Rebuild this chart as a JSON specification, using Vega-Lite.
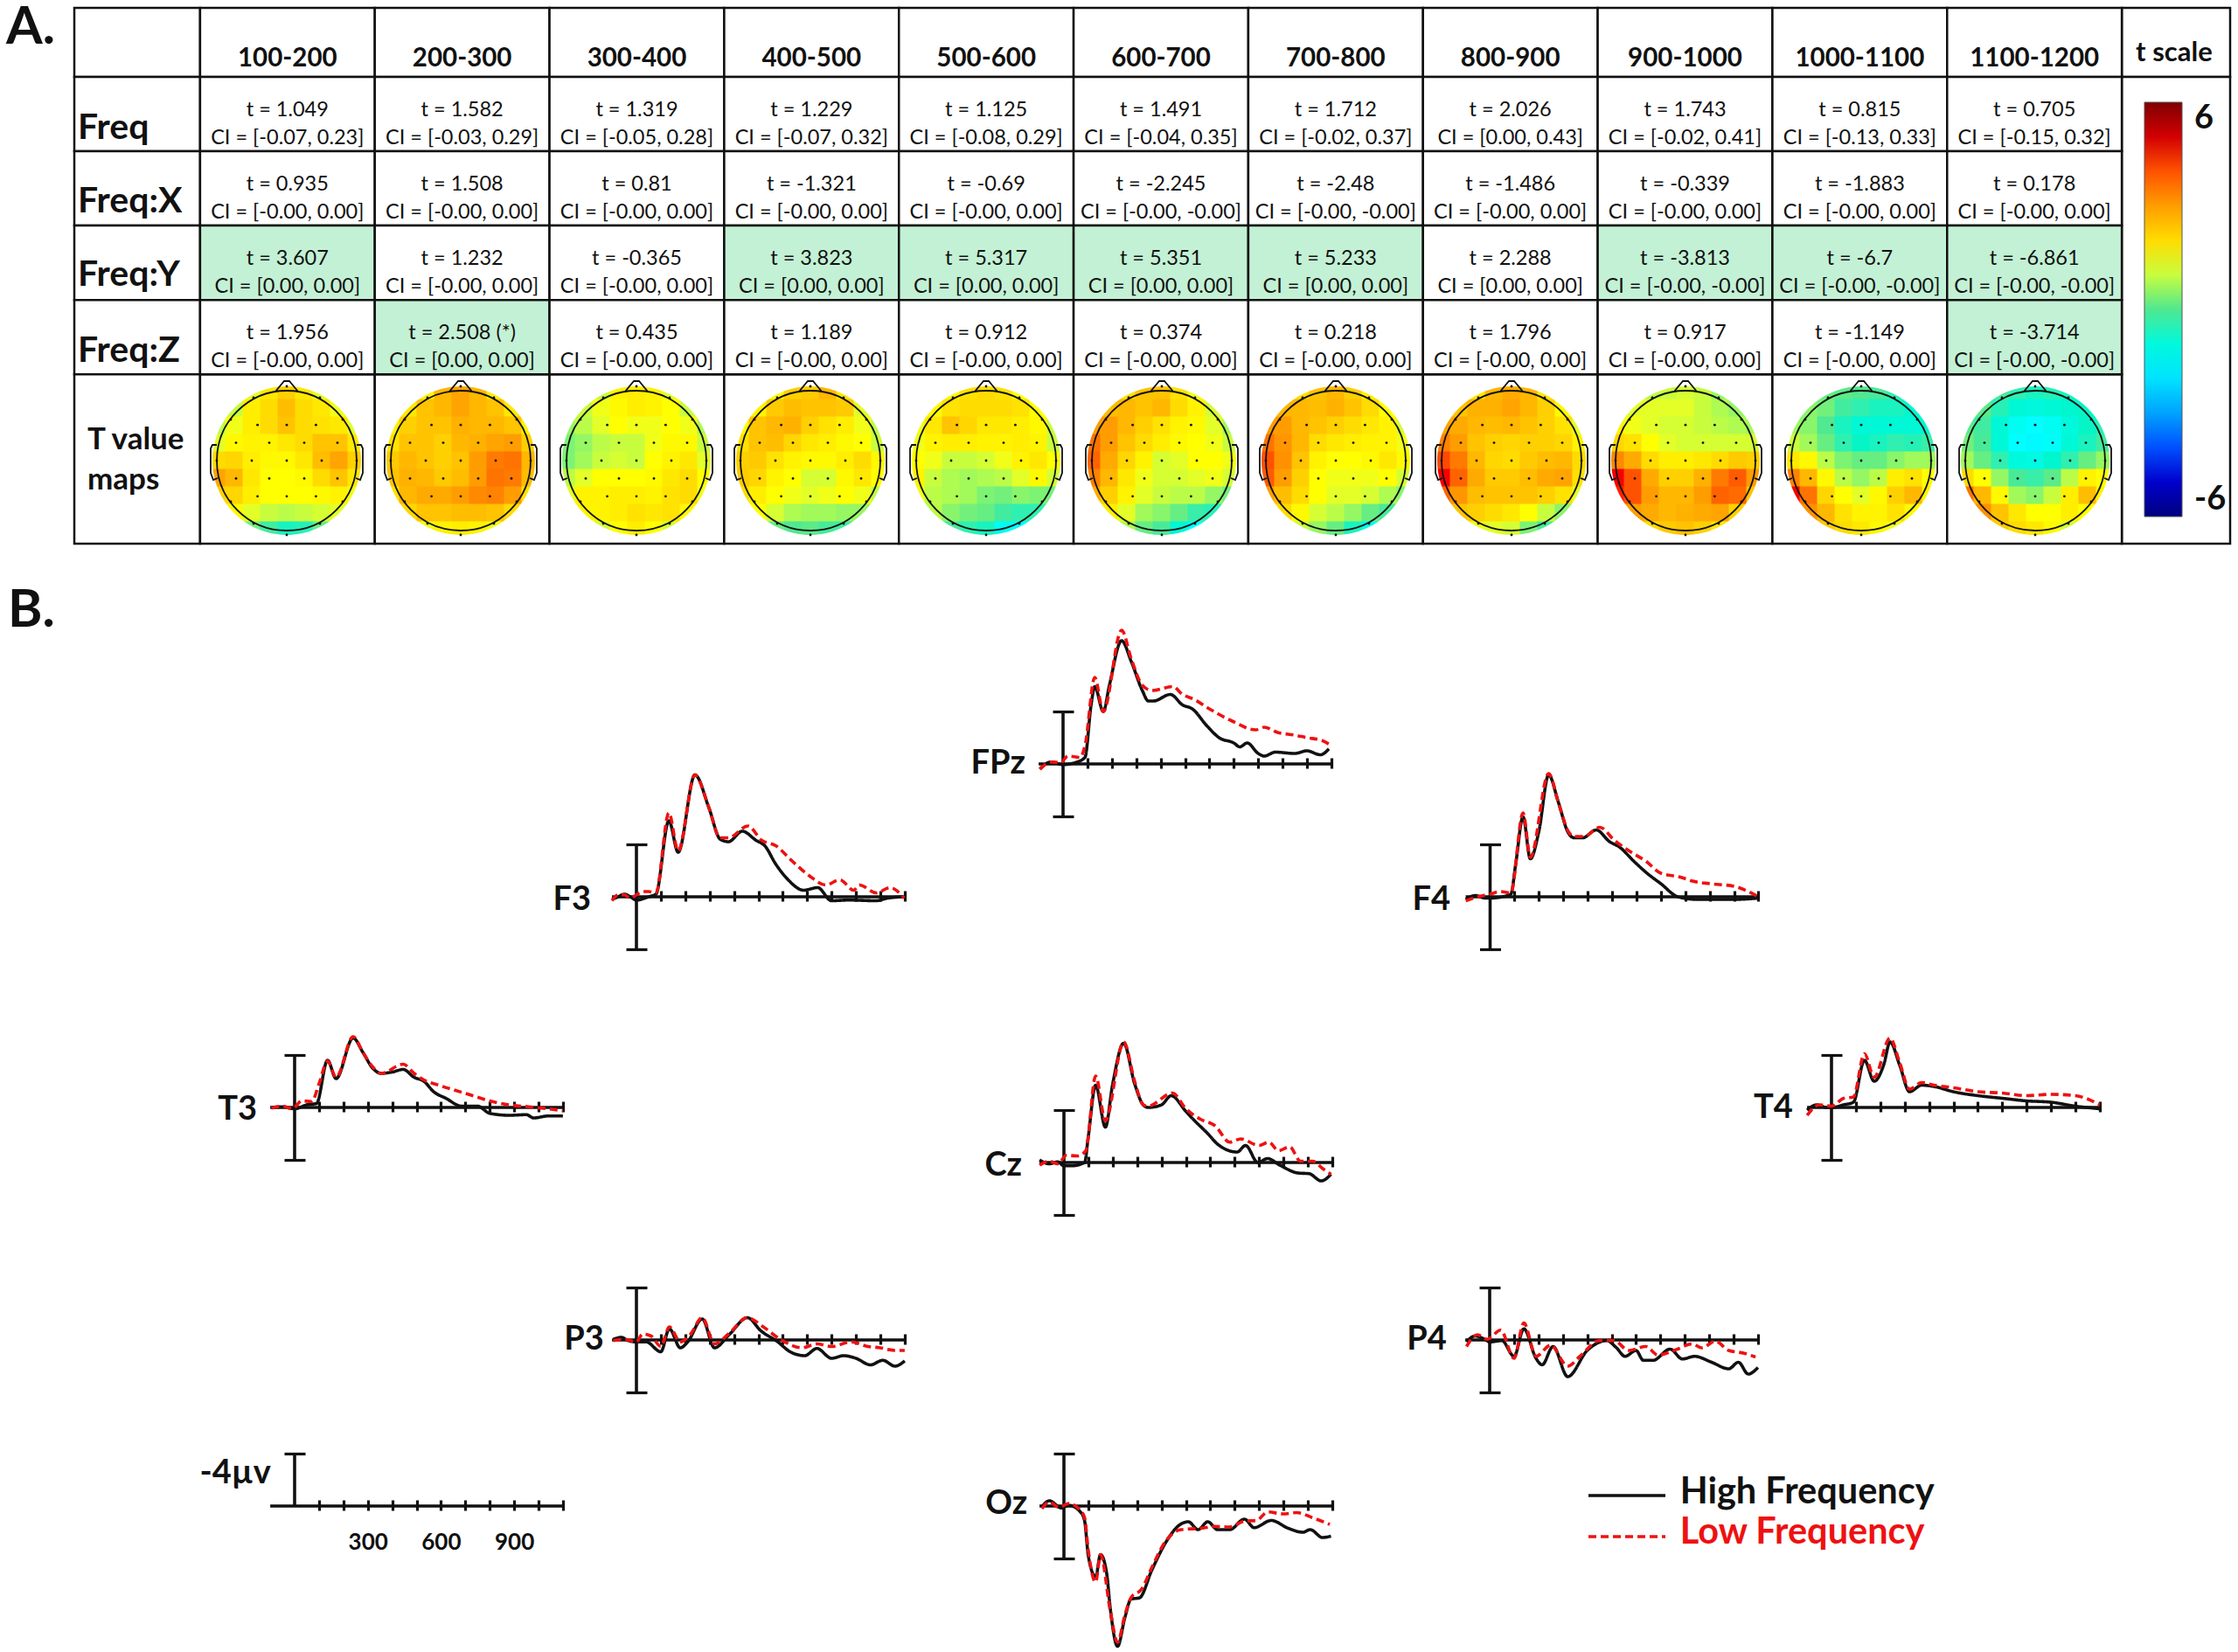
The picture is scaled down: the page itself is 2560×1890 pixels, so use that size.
{"$schema":"https://vega.github.io/schema/vega-lite/v6.json","width":2560,"height":1890,"autosize":{"type":"fit","contains":"padding"},"padding":0,"background":"white","config":{"view":{"stroke":null},"font":"Lato","text":{"font":"Lato"}},
"resolve":{"scale":{"x":"independent","y":"independent"}},
"datasets":{
"origin":[{"x":0,"y":0}],
"base":[{"x":-100,"x2":1100,"y":0}],
"bar":[{"x":0,"y":-4,"y2":4}],
"keybar":[{"x":0,"y":-4,"y2":0}],
"electrodes":[{"x":0,"y":-4.25},{"x":-1.9,"y":-3.6},{"x":1.9,"y":-3.6},{"x":-3.2,"y":-2.35},{"x":3.2,"y":-2.35},{"x":-1.67,"y":-2.04},{"x":0,"y":-2.04},{"x":1.67,"y":-2.04},{"x":-2.9,"y":-1.02},{"x":-1,"y":-1.02},{"x":1,"y":-1.02},{"x":2.9,"y":-1.02},{"x":-4,"y":0},{"x":-2,"y":0},{"x":0,"y":0},{"x":2,"y":0},{"x":4,"y":0},{"x":-2.9,"y":1.02},{"x":-1,"y":1.02},{"x":1,"y":1.02},{"x":2.9,"y":1.02},{"x":-1.67,"y":2.04},{"x":0,"y":2.04},{"x":1.67,"y":2.04},{"x":-3.2,"y":2.35},{"x":3.2,"y":2.35},{"x":-1.9,"y":3.6},{"x":1.9,"y":3.6},{"x":0,"y":4.25}],
"frame":[{"a":28,"b":100,"r0":-0.93,"r1":0},{"a":28,"b":100,"r0":0,"r1":1},{"a":28,"b":100,"r0":1,"r1":2},{"a":28,"b":100,"r0":2,"r1":3},{"a":28,"b":100,"r0":3,"r1":4},{"a":28,"b":100,"r0":4,"r1":6.28},{"a":1200,"b":1262,"r0":-0.93,"r1":0},{"a":1200,"b":1262,"r0":0,"r1":6.28},
{"a":100,"b":200,"r0":4,"r1":6.28},{"a":200,"b":300,"r0":4,"r1":6.28},{"a":300,"b":400,"r0":4,"r1":6.28},{"a":400,"b":500,"r0":4,"r1":6.28},{"a":500,"b":600,"r0":4,"r1":6.28},{"a":600,"b":700,"r0":4,"r1":6.28},{"a":700,"b":800,"r0":4,"r1":6.28},{"a":800,"b":900,"r0":4,"r1":6.28},{"a":900,"b":1000,"r0":4,"r1":6.28},{"a":1000,"b":1100,"r0":4,"r1":6.28},{"a":1100,"b":1200,"r0":4,"r1":6.28}],
"head":[{"c":150,"a":100,"b":200,"w":"100-200"},{"c":250,"a":200,"b":300,"w":"200-300"},{"c":350,"a":300,"b":400,"w":"300-400"},{"c":450,"a":400,"b":500,"w":"400-500"},{"c":550,"a":500,"b":600,"w":"500-600"},{"c":650,"a":600,"b":700,"w":"600-700"},{"c":750,"a":700,"b":800,"w":"700-800"},{"c":850,"a":800,"b":900,"w":"800-900"},{"c":950,"a":900,"b":1000,"w":"900-1000"},{"c":1050,"a":1000,"b":1100,"w":"1000-1100"},{"c":1150,"a":1100,"b":1200,"w":"1100-1200"}],
"rowlabels":[{"a":30,"r":0.69,"w":"Freq"},{"a":30,"r":1.68,"w":"Freq:X"},{"a":30,"r":2.67,"w":"Freq:Y"},{"a":30,"r":3.69,"w":"Freq:Z"}],
"cells":[
{"c":150,"a":100,"b":200,"r0":0,"r1":1,"t":"t = 1.049","ci":"CI = [-0.07, 0.23]","sig":0},{"c":250,"a":200,"b":300,"r0":0,"r1":1,"t":"t = 1.582","ci":"CI = [-0.03, 0.29]","sig":0},{"c":350,"a":300,"b":400,"r0":0,"r1":1,"t":"t = 1.319","ci":"CI = [-0.05, 0.28]","sig":0},{"c":450,"a":400,"b":500,"r0":0,"r1":1,"t":"t = 1.229","ci":"CI = [-0.07, 0.32]","sig":0},{"c":550,"a":500,"b":600,"r0":0,"r1":1,"t":"t = 1.125","ci":"CI = [-0.08, 0.29]","sig":0},{"c":650,"a":600,"b":700,"r0":0,"r1":1,"t":"t = 1.491","ci":"CI = [-0.04, 0.35]","sig":0},{"c":750,"a":700,"b":800,"r0":0,"r1":1,"t":"t = 1.712","ci":"CI = [-0.02, 0.37]","sig":0},{"c":850,"a":800,"b":900,"r0":0,"r1":1,"t":"t = 2.026","ci":"CI = [0.00, 0.43]","sig":0},{"c":950,"a":900,"b":1000,"r0":0,"r1":1,"t":"t = 1.743","ci":"CI = [-0.02, 0.41]","sig":0},{"c":1050,"a":1000,"b":1100,"r0":0,"r1":1,"t":"t = 0.815","ci":"CI = [-0.13, 0.33]","sig":0},{"c":1150,"a":1100,"b":1200,"r0":0,"r1":1,"t":"t = 0.705","ci":"CI = [-0.15, 0.32]","sig":0},
{"c":150,"a":100,"b":200,"r0":1,"r1":2,"t":"t = 0.935","ci":"CI = [-0.00, 0.00]","sig":0},{"c":250,"a":200,"b":300,"r0":1,"r1":2,"t":"t = 1.508","ci":"CI = [-0.00, 0.00]","sig":0},{"c":350,"a":300,"b":400,"r0":1,"r1":2,"t":"t = 0.81","ci":"CI = [-0.00, 0.00]","sig":0},{"c":450,"a":400,"b":500,"r0":1,"r1":2,"t":"t = -1.321","ci":"CI = [-0.00, 0.00]","sig":0},{"c":550,"a":500,"b":600,"r0":1,"r1":2,"t":"t = -0.69","ci":"CI = [-0.00, 0.00]","sig":0},{"c":650,"a":600,"b":700,"r0":1,"r1":2,"t":"t = -2.245","ci":"CI = [-0.00, -0.00]","sig":0},{"c":750,"a":700,"b":800,"r0":1,"r1":2,"t":"t = -2.48","ci":"CI = [-0.00, -0.00]","sig":0},{"c":850,"a":800,"b":900,"r0":1,"r1":2,"t":"t = -1.486","ci":"CI = [-0.00, 0.00]","sig":0},{"c":950,"a":900,"b":1000,"r0":1,"r1":2,"t":"t = -0.339","ci":"CI = [-0.00, 0.00]","sig":0},{"c":1050,"a":1000,"b":1100,"r0":1,"r1":2,"t":"t = -1.883","ci":"CI = [-0.00, 0.00]","sig":0},{"c":1150,"a":1100,"b":1200,"r0":1,"r1":2,"t":"t = 0.178","ci":"CI = [-0.00, 0.00]","sig":0},
{"c":150,"a":100,"b":200,"r0":2,"r1":3,"t":"t = 3.607","ci":"CI = [0.00, 0.00]","sig":1},{"c":250,"a":200,"b":300,"r0":2,"r1":3,"t":"t = 1.232","ci":"CI = [-0.00, 0.00]","sig":0},{"c":350,"a":300,"b":400,"r0":2,"r1":3,"t":"t = -0.365","ci":"CI = [-0.00, 0.00]","sig":0},{"c":450,"a":400,"b":500,"r0":2,"r1":3,"t":"t = 3.823","ci":"CI = [0.00, 0.00]","sig":1},{"c":550,"a":500,"b":600,"r0":2,"r1":3,"t":"t = 5.317","ci":"CI = [0.00, 0.00]","sig":1},{"c":650,"a":600,"b":700,"r0":2,"r1":3,"t":"t = 5.351","ci":"CI = [0.00, 0.00]","sig":1},{"c":750,"a":700,"b":800,"r0":2,"r1":3,"t":"t = 5.233","ci":"CI = [0.00, 0.00]","sig":1},{"c":850,"a":800,"b":900,"r0":2,"r1":3,"t":"t = 2.288","ci":"CI = [0.00, 0.00]","sig":0},{"c":950,"a":900,"b":1000,"r0":2,"r1":3,"t":"t = -3.813","ci":"CI = [-0.00, -0.00]","sig":1},{"c":1050,"a":1000,"b":1100,"r0":2,"r1":3,"t":"t = -6.7","ci":"CI = [-0.00, -0.00]","sig":1},{"c":1150,"a":1100,"b":1200,"r0":2,"r1":3,"t":"t = -6.861","ci":"CI = [-0.00, -0.00]","sig":1},
{"c":150,"a":100,"b":200,"r0":3,"r1":4,"t":"t = 1.956","ci":"CI = [-0.00, 0.00]","sig":0},{"c":250,"a":200,"b":300,"r0":3,"r1":4,"t":"t = 2.508 (*)","ci":"CI = [0.00, 0.00]","sig":1},{"c":350,"a":300,"b":400,"r0":3,"r1":4,"t":"t = 0.435","ci":"CI = [-0.00, 0.00]","sig":0},{"c":450,"a":400,"b":500,"r0":3,"r1":4,"t":"t = 1.189","ci":"CI = [-0.00, 0.00]","sig":0},{"c":550,"a":500,"b":600,"r0":3,"r1":4,"t":"t = 0.912","ci":"CI = [-0.00, 0.00]","sig":0},{"c":650,"a":600,"b":700,"r0":3,"r1":4,"t":"t = 0.374","ci":"CI = [-0.00, 0.00]","sig":0},{"c":750,"a":700,"b":800,"r0":3,"r1":4,"t":"t = 0.218","ci":"CI = [-0.00, 0.00]","sig":0},{"c":850,"a":800,"b":900,"r0":3,"r1":4,"t":"t = 1.796","ci":"CI = [-0.00, 0.00]","sig":0},{"c":950,"a":900,"b":1000,"r0":3,"r1":4,"t":"t = 0.917","ci":"CI = [-0.00, 0.00]","sig":0},{"c":1050,"a":1000,"b":1100,"r0":3,"r1":4,"t":"t = -1.149","ci":"CI = [-0.00, 0.00]","sig":0},{"c":1150,"a":1100,"b":1200,"r0":3,"r1":4,"t":"t = -3.714","ci":"CI = [-0.00, -0.00]","sig":1}],
"erp":[
{"p":"FPz","s":"H","x":-95,"y":0.4},{"p":"FPz","s":"H","x":-50,"y":-0.15},{"p":"FPz","s":"H","x":0,"y":0.05},{"p":"FPz","s":"H","x":50,"y":-0.1},{"p":"FPz","s":"H","x":90,"y":-0.5},{"p":"FPz","s":"H","x":115,"y":-4.5},{"p":"FPz","s":"H","x":130,"y":-5.9},{"p":"FPz","s":"H","x":165,"y":-4},{"p":"FPz","s":"H","x":190,"y":-6},{"p":"FPz","s":"H","x":240,"y":-9.4},{"p":"FPz","s":"H","x":280,"y":-7.8},{"p":"FPz","s":"H","x":325,"y":-5.6},{"p":"FPz","s":"H","x":350,"y":-4.8},{"p":"FPz","s":"H","x":370,"y":-4.8},{"p":"FPz","s":"H","x":440,"y":-5.3},{"p":"FPz","s":"H","x":490,"y":-4.5},{"p":"FPz","s":"H","x":530,"y":-4.2},{"p":"FPz","s":"H","x":590,"y":-2.9},{"p":"FPz","s":"H","x":640,"y":-2},{"p":"FPz","s":"H","x":700,"y":-1.6},{"p":"FPz","s":"H","x":725,"y":-1.3},{"p":"FPz","s":"H","x":755,"y":-1.6},{"p":"FPz","s":"H","x":800,"y":-0.8},{"p":"FPz","s":"H","x":825,"y":-0.6},{"p":"FPz","s":"H","x":870,"y":-0.9},{"p":"FPz","s":"H","x":950,"y":-0.8},{"p":"FPz","s":"H","x":1000,"y":-1},{"p":"FPz","s":"H","x":1055,"y":-0.7},{"p":"FPz","s":"H","x":1090,"y":-1.15},
{"p":"FPz","s":"L","x":-95,"y":0.4},{"p":"FPz","s":"L","x":-50,"y":-0.15},{"p":"FPz","s":"L","x":-10,"y":-0.1},{"p":"FPz","s":"L","x":20,"y":-0.6},{"p":"FPz","s":"L","x":70,"y":-0.5},{"p":"FPz","s":"L","x":90,"y":-1.4},{"p":"FPz","s":"L","x":130,"y":-6.6},{"p":"FPz","s":"L","x":165,"y":-4},{"p":"FPz","s":"L","x":240,"y":-10.2},{"p":"FPz","s":"L","x":280,"y":-8},{"p":"FPz","s":"L","x":325,"y":-6},{"p":"FPz","s":"L","x":365,"y":-5.6},{"p":"FPz","s":"L","x":450,"y":-5.9},{"p":"FPz","s":"L","x":490,"y":-5.3},{"p":"FPz","s":"L","x":540,"y":-4.9},{"p":"FPz","s":"L","x":600,"y":-4.2},{"p":"FPz","s":"L","x":690,"y":-3.3},{"p":"FPz","s":"L","x":790,"y":-2.6},{"p":"FPz","s":"L","x":825,"y":-2.8},{"p":"FPz","s":"L","x":880,"y":-2.4},{"p":"FPz","s":"L","x":950,"y":-2.2},{"p":"FPz","s":"L","x":1000,"y":-2},{"p":"FPz","s":"L","x":1060,"y":-1.8},{"p":"FPz","s":"L","x":1100,"y":-1.4},
{"p":"F3","s":"H","x":-100,"y":0.2},{"p":"F3","s":"H","x":-75,"y":0},{"p":"F3","s":"H","x":-50,"y":-0.2},{"p":"F3","s":"H","x":-25,"y":0},{"p":"F3","s":"H","x":0,"y":0.25},{"p":"F3","s":"H","x":50,"y":0},{"p":"F3","s":"H","x":80,"y":-0.2},{"p":"F3","s":"H","x":133,"y":-5.8},{"p":"F3","s":"H","x":171,"y":-3.4},{"p":"F3","s":"H","x":240,"y":-9.3},{"p":"F3","s":"H","x":297,"y":-6.8},{"p":"F3","s":"H","x":343,"y":-4.4},{"p":"F3","s":"H","x":377,"y":-4.2},{"p":"F3","s":"H","x":434,"y":-5},{"p":"F3","s":"H","x":491,"y":-4.3},{"p":"F3","s":"H","x":526,"y":-3.9},{"p":"F3","s":"H","x":571,"y":-2.5},{"p":"F3","s":"H","x":617,"y":-1.4},{"p":"F3","s":"H","x":686,"y":-0.5},{"p":"F3","s":"H","x":743,"y":-0.7},{"p":"F3","s":"H","x":800,"y":0.3},{"p":"F3","s":"H","x":869,"y":0.25},{"p":"F3","s":"H","x":983,"y":0.3},{"p":"F3","s":"H","x":1030,"y":0.1},{"p":"F3","s":"H","x":1097,"y":0},
{"p":"F3","s":"L","x":-100,"y":0.3},{"p":"F3","s":"L","x":-75,"y":-0.15},{"p":"F3","s":"L","x":-50,"y":-0.15},{"p":"F3","s":"L","x":-25,"y":0.1},{"p":"F3","s":"L","x":0,"y":-0.15},{"p":"F3","s":"L","x":25,"y":-0.4},{"p":"F3","s":"L","x":50,"y":-0.4},{"p":"F3","s":"L","x":80,"y":-0.3},{"p":"F3","s":"L","x":133,"y":-6.4},{"p":"F3","s":"L","x":171,"y":-3.5},{"p":"F3","s":"L","x":240,"y":-9.3},{"p":"F3","s":"L","x":297,"y":-6.8},{"p":"F3","s":"L","x":343,"y":-4.5},{"p":"F3","s":"L","x":377,"y":-4.5},{"p":"F3","s":"L","x":457,"y":-5.4},{"p":"F3","s":"L","x":514,"y":-4.3},{"p":"F3","s":"L","x":571,"y":-3.9},{"p":"F3","s":"L","x":640,"y":-2.7},{"p":"F3","s":"L","x":709,"y":-1.6},{"p":"F3","s":"L","x":777,"y":-0.9},{"p":"F3","s":"L","x":834,"y":-1.3},{"p":"F3","s":"L","x":891,"y":-0.5},{"p":"F3","s":"L","x":914,"y":-0.9},{"p":"F3","s":"L","x":983,"y":-0.3},{"p":"F3","s":"L","x":1040,"y":-0.7},{"p":"F3","s":"L","x":1097,"y":0.1},
{"p":"F4","s":"H","x":-100,"y":0.2},{"p":"F4","s":"H","x":-60,"y":-0.1},{"p":"F4","s":"H","x":-20,"y":0.1},{"p":"F4","s":"H","x":0,"y":0.1},{"p":"F4","s":"H","x":50,"y":0},{"p":"F4","s":"H","x":85,"y":-0.2},{"p":"F4","s":"H","x":105,"y":-2.5},{"p":"F4","s":"H","x":135,"y":-6.1},{"p":"F4","s":"H","x":165,"y":-2.9},{"p":"F4","s":"H","x":200,"y":-5},{"p":"F4","s":"H","x":240,"y":-9.3},{"p":"F4","s":"H","x":280,"y":-7.2},{"p":"F4","s":"H","x":320,"y":-4.9},{"p":"F4","s":"H","x":345,"y":-4.5},{"p":"F4","s":"H","x":380,"y":-4.5},{"p":"F4","s":"H","x":435,"y":-5.1},{"p":"F4","s":"H","x":490,"y":-4.2},{"p":"F4","s":"H","x":530,"y":-3.8},{"p":"F4","s":"H","x":590,"y":-2.7},{"p":"F4","s":"H","x":650,"y":-1.7},{"p":"F4","s":"H","x":700,"y":-1},{"p":"F4","s":"H","x":770,"y":0},{"p":"F4","s":"H","x":850,"y":0.2},{"p":"F4","s":"H","x":1000,"y":0.2},{"p":"F4","s":"H","x":1100,"y":0.1},
{"p":"F4","s":"L","x":-100,"y":0.3},{"p":"F4","s":"L","x":-50,"y":0},{"p":"F4","s":"L","x":0,"y":-0.2},{"p":"F4","s":"L","x":40,"y":-0.4},{"p":"F4","s":"L","x":85,"y":-0.3},{"p":"F4","s":"L","x":135,"y":-6.4},{"p":"F4","s":"L","x":165,"y":-3},{"p":"F4","s":"L","x":240,"y":-9.4},{"p":"F4","s":"L","x":280,"y":-7.2},{"p":"F4","s":"L","x":320,"y":-5},{"p":"F4","s":"L","x":345,"y":-4.6},{"p":"F4","s":"L","x":385,"y":-4.6},{"p":"F4","s":"L","x":450,"y":-5.3},{"p":"F4","s":"L","x":510,"y":-4.3},{"p":"F4","s":"L","x":570,"y":-3.5},{"p":"F4","s":"L","x":640,"y":-2.7},{"p":"F4","s":"L","x":700,"y":-1.8},{"p":"F4","s":"L","x":780,"y":-1.5},{"p":"F4","s":"L","x":830,"y":-1.2},{"p":"F4","s":"L","x":900,"y":-1},{"p":"F4","s":"L","x":1000,"y":-0.8},{"p":"F4","s":"L","x":1100,"y":0},
{"p":"T3","s":"H","x":-95,"y":0},{"p":"T3","s":"H","x":-50,"y":-0.05},{"p":"T3","s":"H","x":0,"y":0.1},{"p":"T3","s":"H","x":50,"y":-0.2},{"p":"T3","s":"H","x":90,"y":-0.3},{"p":"T3","s":"H","x":135,"y":-3.6},{"p":"T3","s":"H","x":170,"y":-2.2},{"p":"T3","s":"H","x":240,"y":-5.3},{"p":"T3","s":"H","x":280,"y":-4.2},{"p":"T3","s":"H","x":320,"y":-3},{"p":"T3","s":"H","x":355,"y":-2.6},{"p":"T3","s":"H","x":400,"y":-2.7},{"p":"T3","s":"H","x":445,"y":-2.9},{"p":"T3","s":"H","x":490,"y":-2.3},{"p":"T3","s":"H","x":530,"y":-2},{"p":"T3","s":"H","x":570,"y":-1.2},{"p":"T3","s":"H","x":620,"y":-0.7},{"p":"T3","s":"H","x":685,"y":-0.1},{"p":"T3","s":"H","x":750,"y":-0.1},{"p":"T3","s":"H","x":800,"y":0.45},{"p":"T3","s":"H","x":880,"y":0.6},{"p":"T3","s":"H","x":950,"y":0.55},{"p":"T3","s":"H","x":980,"y":0.8},{"p":"T3","s":"H","x":1040,"y":0.65},{"p":"T3","s":"H","x":1100,"y":0.65},
{"p":"T3","s":"L","x":-95,"y":0.05},{"p":"T3","s":"L","x":-50,"y":-0.1},{"p":"T3","s":"L","x":-10,"y":0.1},{"p":"T3","s":"L","x":30,"y":-0.5},{"p":"T3","s":"L","x":70,"y":-0.45},{"p":"T3","s":"L","x":100,"y":-1.8},{"p":"T3","s":"L","x":135,"y":-3.55},{"p":"T3","s":"L","x":170,"y":-2.3},{"p":"T3","s":"L","x":240,"y":-5.4},{"p":"T3","s":"L","x":280,"y":-4.2},{"p":"T3","s":"L","x":320,"y":-3.1},{"p":"T3","s":"L","x":355,"y":-2.6},{"p":"T3","s":"L","x":445,"y":-3.3},{"p":"T3","s":"L","x":490,"y":-2.6},{"p":"T3","s":"L","x":530,"y":-2.1},{"p":"T3","s":"L","x":590,"y":-1.7},{"p":"T3","s":"L","x":660,"y":-1.3},{"p":"T3","s":"L","x":730,"y":-0.9},{"p":"T3","s":"L","x":800,"y":-0.5},{"p":"T3","s":"L","x":880,"y":-0.2},{"p":"T3","s":"L","x":960,"y":-0.05},{"p":"T3","s":"L","x":1040,"y":0.1},{"p":"T3","s":"L","x":1100,"y":0.25},
{"p":"Cz","s":"H","x":-100,"y":-0.2},{"p":"Cz","s":"H","x":-60,"y":0.1},{"p":"Cz","s":"H","x":-25,"y":-0.05},{"p":"Cz","s":"H","x":0,"y":0.25},{"p":"Cz","s":"H","x":30,"y":0.25},{"p":"Cz","s":"H","x":85,"y":0},{"p":"Cz","s":"H","x":100,"y":-2},{"p":"Cz","s":"H","x":130,"y":-5.9},{"p":"Cz","s":"H","x":170,"y":-2.7},{"p":"Cz","s":"H","x":200,"y":-6},{"p":"Cz","s":"H","x":245,"y":-9.1},{"p":"Cz","s":"H","x":290,"y":-6},{"p":"Cz","s":"H","x":325,"y":-4.4},{"p":"Cz","s":"H","x":345,"y":-4.2},{"p":"Cz","s":"H","x":400,"y":-4.4},{"p":"Cz","s":"H","x":440,"y":-5.1},{"p":"Cz","s":"H","x":500,"y":-3.9},{"p":"Cz","s":"H","x":530,"y":-3.3},{"p":"Cz","s":"H","x":590,"y":-2.2},{"p":"Cz","s":"H","x":630,"y":-1.4},{"p":"Cz","s":"H","x":710,"y":-0.8},{"p":"Cz","s":"H","x":745,"y":-1.3},{"p":"Cz","s":"H","x":795,"y":0},{"p":"Cz","s":"H","x":835,"y":-0.3},{"p":"Cz","s":"H","x":885,"y":0.2},{"p":"Cz","s":"H","x":960,"y":0.8},{"p":"Cz","s":"H","x":1005,"y":0.85},{"p":"Cz","s":"H","x":1055,"y":1.4},{"p":"Cz","s":"H","x":1095,"y":0.9},
{"p":"Cz","s":"L","x":-100,"y":0.2},{"p":"Cz","s":"L","x":-60,"y":-0.1},{"p":"Cz","s":"L","x":-25,"y":0.1},{"p":"Cz","s":"L","x":10,"y":-0.55},{"p":"Cz","s":"L","x":55,"y":-0.5},{"p":"Cz","s":"L","x":90,"y":-0.9},{"p":"Cz","s":"L","x":130,"y":-6.6},{"p":"Cz","s":"L","x":170,"y":-3.2},{"p":"Cz","s":"L","x":245,"y":-9.2},{"p":"Cz","s":"L","x":290,"y":-6.2},{"p":"Cz","s":"L","x":325,"y":-4.4},{"p":"Cz","s":"L","x":345,"y":-4.3},{"p":"Cz","s":"L","x":445,"y":-5.3},{"p":"Cz","s":"L","x":500,"y":-4.1},{"p":"Cz","s":"L","x":560,"y":-3.3},{"p":"Cz","s":"L","x":620,"y":-2.8},{"p":"Cz","s":"L","x":680,"y":-1.55},{"p":"Cz","s":"L","x":725,"y":-1.8},{"p":"Cz","s":"L","x":800,"y":-1.3},{"p":"Cz","s":"L","x":840,"y":-1.55},{"p":"Cz","s":"L","x":880,"y":-0.9},{"p":"Cz","s":"L","x":925,"y":-1.2},{"p":"Cz","s":"L","x":970,"y":-0.1},{"p":"Cz","s":"L","x":1020,"y":-0.1},{"p":"Cz","s":"L","x":1060,"y":0.45},{"p":"Cz","s":"L","x":1095,"y":0.9},
{"p":"T4","s":"H","x":-100,"y":0.2},{"p":"T4","s":"H","x":-60,"y":-0.2},{"p":"T4","s":"H","x":-20,"y":0},{"p":"T4","s":"H","x":0,"y":0},{"p":"T4","s":"H","x":50,"y":-0.2},{"p":"T4","s":"H","x":90,"y":-0.4},{"p":"T4","s":"H","x":135,"y":-3.6},{"p":"T4","s":"H","x":175,"y":-2},{"p":"T4","s":"H","x":215,"y":-3.3},{"p":"T4","s":"H","x":240,"y":-5},{"p":"T4","s":"H","x":280,"y":-3.2},{"p":"T4","s":"H","x":320,"y":-1.2},{"p":"T4","s":"H","x":370,"y":-1.7},{"p":"T4","s":"H","x":420,"y":-1.6},{"p":"T4","s":"H","x":500,"y":-1.2},{"p":"T4","s":"H","x":600,"y":-0.9},{"p":"T4","s":"H","x":700,"y":-0.7},{"p":"T4","s":"H","x":800,"y":-0.5},{"p":"T4","s":"H","x":900,"y":-0.4},{"p":"T4","s":"H","x":1000,"y":-0.1},{"p":"T4","s":"H","x":1100,"y":0.1},
{"p":"T4","s":"L","x":-100,"y":0.6},{"p":"T4","s":"L","x":-50,"y":-0.2},{"p":"T4","s":"L","x":0,"y":-0.1},{"p":"T4","s":"L","x":50,"y":-0.7},{"p":"T4","s":"L","x":90,"y":-0.8},{"p":"T4","s":"L","x":135,"y":-4.1},{"p":"T4","s":"L","x":175,"y":-2.3},{"p":"T4","s":"L","x":240,"y":-5.3},{"p":"T4","s":"L","x":280,"y":-3.4},{"p":"T4","s":"L","x":320,"y":-1.4},{"p":"T4","s":"L","x":370,"y":-1.9},{"p":"T4","s":"L","x":420,"y":-1.7},{"p":"T4","s":"L","x":500,"y":-1.5},{"p":"T4","s":"L","x":600,"y":-1.2},{"p":"T4","s":"L","x":700,"y":-1.1},{"p":"T4","s":"L","x":800,"y":-0.9},{"p":"T4","s":"L","x":900,"y":-1},{"p":"T4","s":"L","x":1000,"y":-0.9},{"p":"T4","s":"L","x":1100,"y":-0.2},
{"p":"P3","s":"H","x":-95,"y":-0.05},{"p":"P3","s":"H","x":-60,"y":-0.2},{"p":"P3","s":"H","x":-40,"y":0},{"p":"P3","s":"H","x":0,"y":0.15},{"p":"P3","s":"H","x":40,"y":0.15},{"p":"P3","s":"H","x":100,"y":0.9},{"p":"P3","s":"H","x":135,"y":-0.85},{"p":"P3","s":"H","x":180,"y":0.6},{"p":"P3","s":"H","x":210,"y":0.15},{"p":"P3","s":"H","x":270,"y":-1.6},{"p":"P3","s":"H","x":320,"y":0.6},{"p":"P3","s":"H","x":380,"y":-0.4},{"p":"P3","s":"H","x":455,"y":-1.7},{"p":"P3","s":"H","x":510,"y":-0.7},{"p":"P3","s":"H","x":580,"y":0.15},{"p":"P3","s":"H","x":630,"y":0.9},{"p":"P3","s":"H","x":690,"y":1.2},{"p":"P3","s":"H","x":740,"y":0.65},{"p":"P3","s":"H","x":800,"y":1.4},{"p":"P3","s":"H","x":850,"y":1.2},{"p":"P3","s":"H","x":900,"y":1.4},{"p":"P3","s":"H","x":960,"y":1.9},{"p":"P3","s":"H","x":1010,"y":1.55},{"p":"P3","s":"H","x":1060,"y":2},{"p":"P3","s":"H","x":1100,"y":1.6},
{"p":"P3","s":"L","x":-95,"y":0.05},{"p":"P3","s":"L","x":-50,"y":-0.05},{"p":"P3","s":"L","x":0,"y":0.15},{"p":"P3","s":"L","x":25,"y":-0.45},{"p":"P3","s":"L","x":60,"y":-0.3},{"p":"P3","s":"L","x":100,"y":0.5},{"p":"P3","s":"L","x":135,"y":-1},{"p":"P3","s":"L","x":180,"y":0.15},{"p":"P3","s":"L","x":220,"y":-0.4},{"p":"P3","s":"L","x":270,"y":-1.7},{"p":"P3","s":"L","x":320,"y":0.3},{"p":"P3","s":"L","x":380,"y":-0.5},{"p":"P3","s":"L","x":455,"y":-1.7},{"p":"P3","s":"L","x":520,"y":-1},{"p":"P3","s":"L","x":590,"y":-0.05},{"p":"P3","s":"L","x":680,"y":0.6},{"p":"P3","s":"L","x":740,"y":0.3},{"p":"P3","s":"L","x":800,"y":0.5},{"p":"P3","s":"L","x":880,"y":0.15},{"p":"P3","s":"L","x":950,"y":0.5},{"p":"P3","s":"L","x":1000,"y":0.6},{"p":"P3","s":"L","x":1060,"y":0.8},{"p":"P3","s":"L","x":1100,"y":0.8},
{"p":"P4","s":"H","x":-95,"y":0.15},{"p":"P4","s":"H","x":-60,"y":-0.3},{"p":"P4","s":"H","x":-20,"y":-0.05},{"p":"P4","s":"H","x":0,"y":0.15},{"p":"P4","s":"H","x":50,"y":0.05},{"p":"P4","s":"H","x":100,"y":1.25},{"p":"P4","s":"H","x":140,"y":-0.85},{"p":"P4","s":"H","x":190,"y":1.4},{"p":"P4","s":"H","x":215,"y":1.9},{"p":"P4","s":"H","x":260,"y":0.5},{"p":"P4","s":"H","x":320,"y":2.8},{"p":"P4","s":"H","x":400,"y":0.8},{"p":"P4","s":"H","x":480,"y":0.05},{"p":"P4","s":"H","x":520,"y":0.6},{"p":"P4","s":"H","x":555,"y":1.25},{"p":"P4","s":"H","x":600,"y":0.8},{"p":"P4","s":"H","x":630,"y":1.55},{"p":"P4","s":"H","x":670,"y":1.55},{"p":"P4","s":"H","x":740,"y":0.7},{"p":"P4","s":"H","x":790,"y":1.45},{"p":"P4","s":"H","x":840,"y":1.25},{"p":"P4","s":"H","x":910,"y":1.7},{"p":"P4","s":"H","x":980,"y":2.2},{"p":"P4","s":"H","x":1020,"y":1.7},{"p":"P4","s":"H","x":1060,"y":2.6},{"p":"P4","s":"H","x":1100,"y":2.1},
{"p":"P4","s":"L","x":-95,"y":0.5},{"p":"P4","s":"L","x":-50,"y":-0.4},{"p":"P4","s":"L","x":-10,"y":-0.05},{"p":"P4","s":"L","x":45,"y":-0.75},{"p":"P4","s":"L","x":100,"y":1.4},{"p":"P4","s":"L","x":140,"y":-1.3},{"p":"P4","s":"L","x":190,"y":1.25},{"p":"P4","s":"L","x":250,"y":0.4},{"p":"P4","s":"L","x":320,"y":2},{"p":"P4","s":"L","x":370,"y":1.25},{"p":"P4","s":"L","x":450,"y":0.05},{"p":"P4","s":"L","x":510,"y":0.05},{"p":"P4","s":"L","x":570,"y":0.8},{"p":"P4","s":"L","x":640,"y":0.5},{"p":"P4","s":"L","x":690,"y":1.15},{"p":"P4","s":"L","x":770,"y":0.7},{"p":"P4","s":"L","x":830,"y":0.3},{"p":"P4","s":"L","x":870,"y":0.6},{"p":"P4","s":"L","x":925,"y":0.1},{"p":"P4","s":"L","x":980,"y":0.8},{"p":"P4","s":"L","x":1040,"y":1},{"p":"P4","s":"L","x":1090,"y":1.3},
{"p":"Oz","s":"H","x":-90,"y":0.05},{"p":"Oz","s":"H","x":-60,"y":-0.4},{"p":"Oz","s":"H","x":-10,"y":0.15},{"p":"Oz","s":"H","x":20,"y":-0.05},{"p":"Oz","s":"H","x":70,"y":0.5},{"p":"Oz","s":"H","x":85,"y":1.15},{"p":"Oz","s":"H","x":100,"y":3.8},{"p":"Oz","s":"H","x":130,"y":5.4},{"p":"Oz","s":"H","x":150,"y":3.7},{"p":"Oz","s":"H","x":175,"y":5.1},{"p":"Oz","s":"H","x":190,"y":7.8},{"p":"Oz","s":"H","x":220,"y":10.7},{"p":"Oz","s":"H","x":250,"y":8.5},{"p":"Oz","s":"H","x":275,"y":7.1},{"p":"Oz","s":"H","x":310,"y":7},{"p":"Oz","s":"H","x":360,"y":4.9},{"p":"Oz","s":"H","x":420,"y":2.7},{"p":"Oz","s":"H","x":470,"y":1.5},{"p":"Oz","s":"H","x":510,"y":1.2},{"p":"Oz","s":"H","x":550,"y":1.8},{"p":"Oz","s":"H","x":590,"y":1.2},{"p":"Oz","s":"H","x":630,"y":1.8},{"p":"Oz","s":"H","x":680,"y":1.8},{"p":"Oz","s":"H","x":740,"y":1},{"p":"Oz","s":"H","x":780,"y":1.65},{"p":"Oz","s":"H","x":850,"y":1.1},{"p":"Oz","s":"H","x":920,"y":1.7},{"p":"Oz","s":"H","x":980,"y":2},{"p":"Oz","s":"H","x":1010,"y":1.8},{"p":"Oz","s":"H","x":1060,"y":2.4},{"p":"Oz","s":"H","x":1095,"y":2.3},
{"p":"Oz","s":"L","x":-90,"y":0.2},{"p":"Oz","s":"L","x":-60,"y":-0.3},{"p":"Oz","s":"L","x":-20,"y":0.1},{"p":"Oz","s":"L","x":20,"y":-0.2},{"p":"Oz","s":"L","x":70,"y":0.4},{"p":"Oz","s":"L","x":85,"y":0.9},{"p":"Oz","s":"L","x":100,"y":3.4},{"p":"Oz","s":"L","x":130,"y":5.8},{"p":"Oz","s":"L","x":150,"y":3.7},{"p":"Oz","s":"L","x":190,"y":8},{"p":"Oz","s":"L","x":220,"y":10.4},{"p":"Oz","s":"L","x":250,"y":8.3},{"p":"Oz","s":"L","x":275,"y":7},{"p":"Oz","s":"L","x":320,"y":6.3},{"p":"Oz","s":"L","x":360,"y":4.7},{"p":"Oz","s":"L","x":420,"y":2.6},{"p":"Oz","s":"L","x":480,"y":1.8},{"p":"Oz","s":"L","x":560,"y":1.7},{"p":"Oz","s":"L","x":620,"y":1.55},{"p":"Oz","s":"L","x":680,"y":1.6},{"p":"Oz","s":"L","x":740,"y":1.15},{"p":"Oz","s":"L","x":790,"y":1.1},{"p":"Oz","s":"L","x":835,"y":0.45},{"p":"Oz","s":"L","x":900,"y":0.6},{"p":"Oz","s":"L","x":955,"y":0.5},{"p":"Oz","s":"L","x":1020,"y":0.9},{"p":"Oz","s":"L","x":1090,"y":1.4}],
"maps":[
{"m":100,"x":-2,"y":-4,"t":1.2},{"m":100,"x":-1,"y":-4,"t":1.8},{"m":100,"x":0,"y":-4,"t":2.2},{"m":100,"x":1,"y":-4,"t":1.8},{"m":100,"x":2,"y":-4,"t":1.2},{"m":100,"x":-3,"y":-3,"t":1},{"m":100,"x":-2,"y":-3,"t":1.7},{"m":100,"x":-1,"y":-3,"t":2},{"m":100,"x":0,"y":-3,"t":2.5},{"m":100,"x":1,"y":-3,"t":2},{"m":100,"x":2,"y":-3,"t":1.8},{"m":100,"x":3,"y":-3,"t":1.3},{"m":100,"x":-4,"y":-2,"t":0.9},{"m":100,"x":-3,"y":-2,"t":1.3},{"m":100,"x":-2,"y":-2,"t":1.7},{"m":100,"x":-1,"y":-2,"t":2},{"m":100,"x":0,"y":-2,"t":2.4},{"m":100,"x":1,"y":-2,"t":2},{"m":100,"x":2,"y":-2,"t":1.9},{"m":100,"x":3,"y":-2,"t":1.8},{"m":100,"x":4,"y":-2,"t":1.2},{"m":100,"x":-4,"y":-1,"t":1.2},{"m":100,"x":-3,"y":-1,"t":1.5},{"m":100,"x":-2,"y":-1,"t":1.6},{"m":100,"x":-1,"y":-1,"t":1.6},{"m":100,"x":0,"y":-1,"t":1.8},{"m":100,"x":1,"y":-1,"t":2},{"m":100,"x":2,"y":-1,"t":2.4},{"m":100,"x":3,"y":-1,"t":2.4},{"m":100,"x":4,"y":-1,"t":1.8},{"m":100,"x":-4,"y":0,"t":2},{"m":100,"x":-3,"y":0,"t":2.1},{"m":100,"x":-2,"y":0,"t":1.7},{"m":100,"x":-1,"y":0,"t":1.5},{"m":100,"x":0,"y":0,"t":1.5},{"m":100,"x":1,"y":0,"t":1.8},{"m":100,"x":2,"y":0,"t":2.5},{"m":100,"x":3,"y":0,"t":2.9},{"m":100,"x":4,"y":0,"t":2.2},{"m":100,"x":-4,"y":1,"t":2.9},{"m":100,"x":-3,"y":1,"t":2.6},{"m":100,"x":-2,"y":1,"t":1.8},{"m":100,"x":-1,"y":1,"t":1.4},{"m":100,"x":0,"y":1,"t":1.4},{"m":100,"x":1,"y":1,"t":1.5},{"m":100,"x":2,"y":1,"t":2},{"m":100,"x":3,"y":1,"t":2.4},{"m":100,"x":4,"y":1,"t":1.8},{"m":100,"x":-4,"y":2,"t":2.2},{"m":100,"x":-3,"y":2,"t":2.1},{"m":100,"x":-2,"y":2,"t":1.7},{"m":100,"x":-1,"y":2,"t":1.4},{"m":100,"x":0,"y":2,"t":1.4},{"m":100,"x":1,"y":2,"t":1.4},{"m":100,"x":2,"y":2,"t":1.5},{"m":100,"x":3,"y":2,"t":1.6},{"m":100,"x":4,"y":2,"t":1.3},{"m":100,"x":-3,"y":3,"t":1.5},{"m":100,"x":-2,"y":3,"t":1.2},{"m":100,"x":-1,"y":3,"t":1},{"m":100,"x":0,"y":3,"t":0.9},{"m":100,"x":1,"y":3,"t":1},{"m":100,"x":2,"y":3,"t":1.1},{"m":100,"x":3,"y":3,"t":1.2},{"m":100,"x":-2,"y":4,"t":0.3},{"m":100,"x":-1,"y":4,"t":-0.2},{"m":100,"x":0,"y":4,"t":-0.6},{"m":100,"x":1,"y":4,"t":-0.5},{"m":100,"x":2,"y":4,"t":0.2},
{"m":200,"x":-2,"y":-4,"t":1.6},{"m":200,"x":-1,"y":-4,"t":2.6},{"m":200,"x":0,"y":-4,"t":2.9},{"m":200,"x":1,"y":-4,"t":2.6},{"m":200,"x":2,"y":-4,"t":1.7},{"m":200,"x":-3,"y":-3,"t":1.8},{"m":200,"x":-2,"y":-3,"t":2.4},{"m":200,"x":-1,"y":-3,"t":2.6},{"m":200,"x":0,"y":-3,"t":2.9},{"m":200,"x":1,"y":-3,"t":2.6},{"m":200,"x":2,"y":-3,"t":2.4},{"m":200,"x":3,"y":-3,"t":1.8},{"m":200,"x":-4,"y":-2,"t":1.6},{"m":200,"x":-3,"y":-2,"t":2.2},{"m":200,"x":-2,"y":-2,"t":2.4},{"m":200,"x":-1,"y":-2,"t":2.4},{"m":200,"x":0,"y":-2,"t":2.7},{"m":200,"x":1,"y":-2,"t":2.6},{"m":200,"x":2,"y":-2,"t":2.6},{"m":200,"x":3,"y":-2,"t":2.4},{"m":200,"x":4,"y":-2,"t":1.6},{"m":200,"x":-4,"y":-1,"t":1.9},{"m":200,"x":-3,"y":-1,"t":2.4},{"m":200,"x":-2,"y":-1,"t":2.4},{"m":200,"x":-1,"y":-1,"t":2.2},{"m":200,"x":0,"y":-1,"t":2.6},{"m":200,"x":1,"y":-1,"t":2.7},{"m":200,"x":2,"y":-1,"t":2.9},{"m":200,"x":3,"y":-1,"t":3},{"m":200,"x":4,"y":-1,"t":2.2},{"m":200,"x":-4,"y":0,"t":2.3},{"m":200,"x":-3,"y":0,"t":2.6},{"m":200,"x":-2,"y":0,"t":2.4},{"m":200,"x":-1,"y":0,"t":2.2},{"m":200,"x":0,"y":0,"t":2.4},{"m":200,"x":1,"y":0,"t":3},{"m":200,"x":2,"y":0,"t":3.5},{"m":200,"x":3,"y":0,"t":3.6},{"m":200,"x":4,"y":0,"t":2.6},{"m":200,"x":-4,"y":1,"t":2.4},{"m":200,"x":-3,"y":1,"t":2.7},{"m":200,"x":-2,"y":1,"t":2.6},{"m":200,"x":-1,"y":1,"t":2.3},{"m":200,"x":0,"y":1,"t":2.5},{"m":200,"x":1,"y":1,"t":3},{"m":200,"x":2,"y":1,"t":3.6},{"m":200,"x":3,"y":1,"t":3.5},{"m":200,"x":4,"y":1,"t":2.5},{"m":200,"x":-4,"y":2,"t":1.9},{"m":200,"x":-3,"y":2,"t":2.6},{"m":200,"x":-2,"y":2,"t":2.8},{"m":200,"x":-1,"y":2,"t":2.8},{"m":200,"x":0,"y":2,"t":3},{"m":200,"x":1,"y":2,"t":3.3},{"m":200,"x":2,"y":2,"t":3.4},{"m":200,"x":3,"y":2,"t":3},{"m":200,"x":4,"y":2,"t":1.9},{"m":200,"x":-3,"y":3,"t":2.1},{"m":200,"x":-2,"y":3,"t":2.4},{"m":200,"x":-1,"y":3,"t":2.4},{"m":200,"x":0,"y":3,"t":2.5},{"m":200,"x":1,"y":3,"t":2.5},{"m":200,"x":2,"y":3,"t":2.4},{"m":200,"x":3,"y":3,"t":2},{"m":200,"x":-2,"y":4,"t":1.3},{"m":200,"x":-1,"y":4,"t":1.6},{"m":200,"x":0,"y":4,"t":1.7},{"m":200,"x":1,"y":4,"t":1.6},{"m":200,"x":2,"y":4,"t":1.3},
{"m":300,"x":-2,"y":-4,"t":1},{"m":300,"x":-1,"y":-4,"t":1.6},{"m":300,"x":0,"y":-4,"t":1.7},{"m":300,"x":1,"y":-4,"t":1.6},{"m":300,"x":2,"y":-4,"t":1.2},{"m":300,"x":-3,"y":-3,"t":1},{"m":300,"x":-2,"y":-3,"t":1.3},{"m":300,"x":-1,"y":-3,"t":1.5},{"m":300,"x":0,"y":-3,"t":1.7},{"m":300,"x":1,"y":-3,"t":1.6},{"m":300,"x":2,"y":-3,"t":1.4},{"m":300,"x":3,"y":-3,"t":1},{"m":300,"x":-4,"y":-2,"t":0.6},{"m":300,"x":-3,"y":-2,"t":0.9},{"m":300,"x":-2,"y":-2,"t":1.2},{"m":300,"x":-1,"y":-2,"t":1.4},{"m":300,"x":0,"y":-2,"t":1.3},{"m":300,"x":1,"y":-2,"t":1.3},{"m":300,"x":2,"y":-2,"t":1.4},{"m":300,"x":3,"y":-2,"t":1.3},{"m":300,"x":4,"y":-2,"t":0.8},{"m":300,"x":-4,"y":-1,"t":0.4},{"m":300,"x":-3,"y":-1,"t":0.6},{"m":300,"x":-2,"y":-1,"t":0.9},{"m":300,"x":-1,"y":-1,"t":1},{"m":300,"x":0,"y":-1,"t":1},{"m":300,"x":1,"y":-1,"t":1.3},{"m":300,"x":2,"y":-1,"t":1.5},{"m":300,"x":3,"y":-1,"t":1.5},{"m":300,"x":4,"y":-1,"t":1},{"m":300,"x":-4,"y":0,"t":0.4},{"m":300,"x":-3,"y":0,"t":0.7},{"m":300,"x":-2,"y":0,"t":1},{"m":300,"x":-1,"y":0,"t":1.1},{"m":300,"x":0,"y":0,"t":1},{"m":300,"x":1,"y":0,"t":1.4},{"m":300,"x":2,"y":0,"t":1.6},{"m":300,"x":3,"y":0,"t":1.8},{"m":300,"x":4,"y":0,"t":1.2},{"m":300,"x":-4,"y":1,"t":0.9},{"m":300,"x":-3,"y":1,"t":1.2},{"m":300,"x":-2,"y":1,"t":1.4},{"m":300,"x":-1,"y":1,"t":1.4},{"m":300,"x":0,"y":1,"t":1.4},{"m":300,"x":1,"y":1,"t":1.5},{"m":300,"x":2,"y":1,"t":1.8},{"m":300,"x":3,"y":1,"t":2},{"m":300,"x":4,"y":1,"t":1.4},{"m":300,"x":-4,"y":2,"t":1.2},{"m":300,"x":-3,"y":2,"t":1.6},{"m":300,"x":-2,"y":2,"t":1.6},{"m":300,"x":-1,"y":2,"t":1.7},{"m":300,"x":0,"y":2,"t":1.7},{"m":300,"x":1,"y":2,"t":1.6},{"m":300,"x":2,"y":2,"t":1.9},{"m":300,"x":3,"y":2,"t":2},{"m":300,"x":4,"y":2,"t":1.3},{"m":300,"x":-3,"y":3,"t":1.6},{"m":300,"x":-2,"y":3,"t":1.6},{"m":300,"x":-1,"y":3,"t":1.7},{"m":300,"x":0,"y":3,"t":1.9},{"m":300,"x":1,"y":3,"t":1.8},{"m":300,"x":2,"y":3,"t":1.9},{"m":300,"x":3,"y":3,"t":1.5},{"m":300,"x":-2,"y":4,"t":1.1},{"m":300,"x":-1,"y":4,"t":1.4},{"m":300,"x":0,"y":4,"t":1.7},{"m":300,"x":1,"y":4,"t":1.4},{"m":300,"x":2,"y":4,"t":1.1},
{"m":400,"x":-2,"y":-4,"t":1.5},{"m":400,"x":-1,"y":-4,"t":2.2},{"m":400,"x":0,"y":-4,"t":2.3},{"m":400,"x":1,"y":-4,"t":2.6},{"m":400,"x":2,"y":-4,"t":1.8},{"m":400,"x":-3,"y":-3,"t":1.6},{"m":400,"x":-2,"y":-3,"t":2.3},{"m":400,"x":-1,"y":-3,"t":2.5},{"m":400,"x":0,"y":-3,"t":2.4},{"m":400,"x":1,"y":-3,"t":2.4},{"m":400,"x":2,"y":-3,"t":2.3},{"m":400,"x":3,"y":-3,"t":1.2},{"m":400,"x":-4,"y":-2,"t":1.4},{"m":400,"x":-3,"y":-2,"t":2.4},{"m":400,"x":-2,"y":-2,"t":2.6},{"m":400,"x":-1,"y":-2,"t":2.7},{"m":400,"x":0,"y":-2,"t":2.2},{"m":400,"x":1,"y":-2,"t":1.9},{"m":400,"x":2,"y":-2,"t":1.7},{"m":400,"x":3,"y":-2,"t":1.3},{"m":400,"x":4,"y":-2,"t":0.9},{"m":400,"x":-4,"y":-1,"t":1.9},{"m":400,"x":-3,"y":-1,"t":2.4},{"m":400,"x":-2,"y":-1,"t":2.5},{"m":400,"x":-1,"y":-1,"t":2.1},{"m":400,"x":0,"y":-1,"t":1.8},{"m":400,"x":1,"y":-1,"t":1.7},{"m":400,"x":2,"y":-1,"t":1.5},{"m":400,"x":3,"y":-1,"t":1.4},{"m":400,"x":4,"y":-1,"t":1},{"m":400,"x":-4,"y":0,"t":2.2},{"m":400,"x":-3,"y":0,"t":2.3},{"m":400,"x":-2,"y":0,"t":1.9},{"m":400,"x":-1,"y":0,"t":1.6},{"m":400,"x":0,"y":0,"t":1.5},{"m":400,"x":1,"y":0,"t":1.5},{"m":400,"x":2,"y":0,"t":1.7},{"m":400,"x":3,"y":0,"t":2},{"m":400,"x":4,"y":0,"t":1.5},{"m":400,"x":-4,"y":1,"t":2.3},{"m":400,"x":-3,"y":1,"t":2.1},{"m":400,"x":-2,"y":1,"t":1.6},{"m":400,"x":-1,"y":1,"t":1.4},{"m":400,"x":0,"y":1,"t":1.1},{"m":400,"x":1,"y":1,"t":1.1},{"m":400,"x":2,"y":1,"t":1.5},{"m":400,"x":3,"y":1,"t":1.8},{"m":400,"x":4,"y":1,"t":1.4},{"m":400,"x":-4,"y":2,"t":2},{"m":400,"x":-3,"y":2,"t":1.7},{"m":400,"x":-2,"y":2,"t":1.4},{"m":400,"x":-1,"y":2,"t":1.3},{"m":400,"x":0,"y":2,"t":1.2},{"m":400,"x":1,"y":2,"t":1.3},{"m":400,"x":2,"y":2,"t":1.4},{"m":400,"x":3,"y":2,"t":1.3},{"m":400,"x":4,"y":2,"t":0.9},{"m":400,"x":-3,"y":3,"t":1.4},{"m":400,"x":-2,"y":3,"t":1.1},{"m":400,"x":-1,"y":3,"t":0.8},{"m":400,"x":0,"y":3,"t":0.7},{"m":400,"x":1,"y":3,"t":0.7},{"m":400,"x":2,"y":3,"t":0.6},{"m":400,"x":3,"y":3,"t":0.6},{"m":400,"x":-2,"y":4,"t":0.2},{"m":400,"x":-1,"y":4,"t":0},{"m":400,"x":0,"y":4,"t":0.1},{"m":400,"x":1,"y":4,"t":-0.1},{"m":400,"x":2,"y":4,"t":-0.2},
{"m":500,"x":-2,"y":-4,"t":1.5},{"m":500,"x":-1,"y":-4,"t":1.9},{"m":500,"x":0,"y":-4,"t":2},{"m":500,"x":1,"y":-4,"t":1.9},{"m":500,"x":2,"y":-4,"t":1.4},{"m":500,"x":-3,"y":-3,"t":1.5},{"m":500,"x":-2,"y":-3,"t":1.9},{"m":500,"x":-1,"y":-3,"t":2},{"m":500,"x":0,"y":-3,"t":2},{"m":500,"x":1,"y":-3,"t":2},{"m":500,"x":2,"y":-3,"t":1.9},{"m":500,"x":3,"y":-3,"t":1.4},{"m":500,"x":-4,"y":-2,"t":1.3},{"m":500,"x":-3,"y":-2,"t":1.8},{"m":500,"x":-2,"y":-2,"t":2.4},{"m":500,"x":-1,"y":-2,"t":2.1},{"m":500,"x":0,"y":-2,"t":1.8},{"m":500,"x":1,"y":-2,"t":1.8},{"m":500,"x":2,"y":-2,"t":1.7},{"m":500,"x":3,"y":-2,"t":1.5},{"m":500,"x":4,"y":-2,"t":1},{"m":500,"x":-4,"y":-1,"t":1.3},{"m":500,"x":-3,"y":-1,"t":1.6},{"m":500,"x":-2,"y":-1,"t":1.7},{"m":500,"x":-1,"y":-1,"t":1.7},{"m":500,"x":0,"y":-1,"t":1.6},{"m":500,"x":1,"y":-1,"t":1.6},{"m":500,"x":2,"y":-1,"t":1.7},{"m":500,"x":3,"y":-1,"t":1.6},{"m":500,"x":4,"y":-1,"t":1},{"m":500,"x":-4,"y":0,"t":1.4},{"m":500,"x":-3,"y":0,"t":1.3},{"m":500,"x":-2,"y":0,"t":1},{"m":500,"x":-1,"y":0,"t":1},{"m":500,"x":0,"y":0,"t":1.1},{"m":500,"x":1,"y":0,"t":1.3},{"m":500,"x":2,"y":0,"t":1.6},{"m":500,"x":3,"y":0,"t":1.8},{"m":500,"x":4,"y":0,"t":1.4},{"m":500,"x":-4,"y":1,"t":1.6},{"m":500,"x":-3,"y":1,"t":1},{"m":500,"x":-2,"y":1,"t":0.8},{"m":500,"x":-1,"y":1,"t":0.7},{"m":500,"x":0,"y":1,"t":0.8},{"m":500,"x":1,"y":1,"t":0.9},{"m":500,"x":2,"y":1,"t":1.2},{"m":500,"x":3,"y":1,"t":1.5},{"m":500,"x":4,"y":1,"t":1.1},{"m":500,"x":-4,"y":2,"t":1.3},{"m":500,"x":-3,"y":2,"t":0.9},{"m":500,"x":-2,"y":2,"t":0.8},{"m":500,"x":-1,"y":2,"t":0.7},{"m":500,"x":0,"y":2,"t":0.4},{"m":500,"x":1,"y":2,"t":0.3},{"m":500,"x":2,"y":2,"t":0.5},{"m":500,"x":3,"y":2,"t":0.4},{"m":500,"x":4,"y":2,"t":0.3},{"m":500,"x":-3,"y":3,"t":0.9},{"m":500,"x":-2,"y":3,"t":0.5},{"m":500,"x":-1,"y":3,"t":0.3},{"m":500,"x":0,"y":3,"t":0.2},{"m":500,"x":1,"y":3,"t":-0.2},{"m":500,"x":2,"y":3,"t":-0.4},{"m":500,"x":3,"y":3,"t":-0.4},{"m":500,"x":-2,"y":4,"t":-0.1},{"m":500,"x":-1,"y":4,"t":-0.4},{"m":500,"x":0,"y":4,"t":-0.6},{"m":500,"x":1,"y":4,"t":-1.3},{"m":500,"x":2,"y":4,"t":-1.4},
{"m":600,"x":-2,"y":-4,"t":1.9},{"m":600,"x":-1,"y":-4,"t":2.4},{"m":600,"x":0,"y":-4,"t":2.4},{"m":600,"x":1,"y":-4,"t":1.9},{"m":600,"x":2,"y":-4,"t":1.3},{"m":600,"x":-3,"y":-3,"t":2.5},{"m":600,"x":-2,"y":-3,"t":2.6},{"m":600,"x":-1,"y":-3,"t":2.4},{"m":600,"x":0,"y":-3,"t":2.6},{"m":600,"x":1,"y":-3,"t":2},{"m":600,"x":2,"y":-3,"t":1.6},{"m":600,"x":3,"y":-3,"t":1.1},{"m":600,"x":-4,"y":-2,"t":3},{"m":600,"x":-3,"y":-2,"t":3},{"m":600,"x":-2,"y":-2,"t":2.6},{"m":600,"x":-1,"y":-2,"t":2.2},{"m":600,"x":0,"y":-2,"t":1.9},{"m":600,"x":1,"y":-2,"t":1.6},{"m":600,"x":2,"y":-2,"t":1.5},{"m":600,"x":3,"y":-2,"t":1.2},{"m":600,"x":4,"y":-2,"t":0.7},{"m":600,"x":-4,"y":-1,"t":3.6},{"m":600,"x":-3,"y":-1,"t":3},{"m":600,"x":-2,"y":-1,"t":2.4},{"m":600,"x":-1,"y":-1,"t":2},{"m":600,"x":0,"y":-1,"t":1.7},{"m":600,"x":1,"y":-1,"t":1.5},{"m":600,"x":2,"y":-1,"t":1.4},{"m":600,"x":3,"y":-1,"t":1.3},{"m":600,"x":4,"y":-1,"t":1},{"m":600,"x":-4,"y":0,"t":3.8},{"m":600,"x":-3,"y":0,"t":2.8},{"m":600,"x":-2,"y":0,"t":2.1},{"m":600,"x":-1,"y":0,"t":1.6},{"m":600,"x":0,"y":0,"t":1.1},{"m":600,"x":1,"y":0,"t":1.2},{"m":600,"x":2,"y":0,"t":1.4},{"m":600,"x":3,"y":0,"t":1.4},{"m":600,"x":4,"y":0,"t":1.3},{"m":600,"x":-4,"y":1,"t":3.4},{"m":600,"x":-3,"y":1,"t":2.6},{"m":600,"x":-2,"y":1,"t":1.8},{"m":600,"x":-1,"y":1,"t":1.3},{"m":600,"x":0,"y":1,"t":1.1},{"m":600,"x":1,"y":1,"t":1.1},{"m":600,"x":2,"y":1,"t":1.2},{"m":600,"x":3,"y":1,"t":1.3},{"m":600,"x":4,"y":1,"t":1.1},{"m":600,"x":-4,"y":2,"t":2.8},{"m":600,"x":-3,"y":2,"t":2.2},{"m":600,"x":-2,"y":2,"t":1.6},{"m":600,"x":-1,"y":2,"t":1.2},{"m":600,"x":0,"y":2,"t":1},{"m":600,"x":1,"y":2,"t":0.9},{"m":600,"x":2,"y":2,"t":0.9},{"m":600,"x":3,"y":2,"t":0.6},{"m":600,"x":4,"y":2,"t":0.3},{"m":600,"x":-3,"y":3,"t":1.7},{"m":600,"x":-2,"y":3,"t":1.2},{"m":600,"x":-1,"y":3,"t":0.7},{"m":600,"x":0,"y":3,"t":0.5},{"m":600,"x":1,"y":3,"t":0.2},{"m":600,"x":2,"y":3,"t":-0.3},{"m":600,"x":3,"y":3,"t":-0.5},{"m":600,"x":-2,"y":4,"t":0.8},{"m":600,"x":-1,"y":4,"t":0.2},{"m":600,"x":0,"y":4,"t":-0.1},{"m":600,"x":1,"y":4,"t":-0.9},{"m":600,"x":2,"y":4,"t":-1.5},
{"m":700,"x":-2,"y":-4,"t":2},{"m":700,"x":-1,"y":-4,"t":2.4},{"m":700,"x":0,"y":-4,"t":2.6},{"m":700,"x":1,"y":-4,"t":2.2},{"m":700,"x":2,"y":-4,"t":1.6},{"m":700,"x":-3,"y":-3,"t":2.6},{"m":700,"x":-2,"y":-3,"t":2.6},{"m":700,"x":-1,"y":-3,"t":2.5},{"m":700,"x":0,"y":-3,"t":2.7},{"m":700,"x":1,"y":-3,"t":2.4},{"m":700,"x":2,"y":-3,"t":2},{"m":700,"x":3,"y":-3,"t":1.4},{"m":700,"x":-4,"y":-2,"t":3},{"m":700,"x":-3,"y":-2,"t":3},{"m":700,"x":-2,"y":-2,"t":2.6},{"m":700,"x":-1,"y":-2,"t":2.4},{"m":700,"x":0,"y":-2,"t":2.2},{"m":700,"x":1,"y":-2,"t":2},{"m":700,"x":2,"y":-2,"t":1.8},{"m":700,"x":3,"y":-2,"t":1.6},{"m":700,"x":4,"y":-2,"t":1.1},{"m":700,"x":-4,"y":-1,"t":3.6},{"m":700,"x":-3,"y":-1,"t":3.1},{"m":700,"x":-2,"y":-1,"t":2.6},{"m":700,"x":-1,"y":-1,"t":2},{"m":700,"x":0,"y":-1,"t":1.8},{"m":700,"x":1,"y":-1,"t":1.7},{"m":700,"x":2,"y":-1,"t":1.6},{"m":700,"x":3,"y":-1,"t":1.6},{"m":700,"x":4,"y":-1,"t":1.3},{"m":700,"x":-4,"y":0,"t":4},{"m":700,"x":-3,"y":0,"t":3.2},{"m":700,"x":-2,"y":0,"t":2.4},{"m":700,"x":-1,"y":0,"t":1.6},{"m":700,"x":0,"y":0,"t":1.4},{"m":700,"x":1,"y":0,"t":1.4},{"m":700,"x":2,"y":0,"t":1.5},{"m":700,"x":3,"y":0,"t":1.8},{"m":700,"x":4,"y":0,"t":1.5},{"m":700,"x":-4,"y":1,"t":3.9},{"m":700,"x":-3,"y":1,"t":3},{"m":700,"x":-2,"y":1,"t":2.2},{"m":700,"x":-1,"y":1,"t":1.4},{"m":700,"x":0,"y":1,"t":1.3},{"m":700,"x":1,"y":1,"t":1.3},{"m":700,"x":2,"y":1,"t":1.3},{"m":700,"x":3,"y":1,"t":1.4},{"m":700,"x":4,"y":1,"t":1.1},{"m":700,"x":-4,"y":2,"t":3},{"m":700,"x":-3,"y":2,"t":2.5},{"m":700,"x":-2,"y":2,"t":2},{"m":700,"x":-1,"y":2,"t":1.4},{"m":700,"x":0,"y":2,"t":1.2},{"m":700,"x":1,"y":2,"t":1.2},{"m":700,"x":2,"y":2,"t":1.1},{"m":700,"x":3,"y":2,"t":0.8},{"m":700,"x":4,"y":2,"t":0.5},{"m":700,"x":-3,"y":3,"t":2},{"m":700,"x":-2,"y":3,"t":1.5},{"m":700,"x":-1,"y":3,"t":1.1},{"m":700,"x":0,"y":3,"t":0.9},{"m":700,"x":1,"y":3,"t":0.6},{"m":700,"x":2,"y":3,"t":0.2},{"m":700,"x":3,"y":3,"t":-0.1},{"m":700,"x":-2,"y":4,"t":1},{"m":700,"x":-1,"y":4,"t":0.6},{"m":700,"x":0,"y":4,"t":0.2},{"m":700,"x":1,"y":4,"t":-0.6},{"m":700,"x":2,"y":4,"t":-1.2},
{"m":800,"x":-2,"y":-4,"t":1.8},{"m":800,"x":-1,"y":-4,"t":2.6},{"m":800,"x":0,"y":-4,"t":2.8},{"m":800,"x":1,"y":-4,"t":2.6},{"m":800,"x":2,"y":-4,"t":1.8},{"m":800,"x":-3,"y":-3,"t":2.4},{"m":800,"x":-2,"y":-3,"t":2.7},{"m":800,"x":-1,"y":-3,"t":2.7},{"m":800,"x":0,"y":-3,"t":2.9},{"m":800,"x":1,"y":-3,"t":2.6},{"m":800,"x":2,"y":-3,"t":2.2},{"m":800,"x":3,"y":-3,"t":1.5},{"m":800,"x":-4,"y":-2,"t":2.9},{"m":800,"x":-3,"y":-2,"t":2.8},{"m":800,"x":-2,"y":-2,"t":2.6},{"m":800,"x":-1,"y":-2,"t":2.5},{"m":800,"x":0,"y":-2,"t":2.6},{"m":800,"x":1,"y":-2,"t":2.4},{"m":800,"x":2,"y":-2,"t":2.2},{"m":800,"x":3,"y":-2,"t":1.9},{"m":800,"x":4,"y":-2,"t":1.2},{"m":800,"x":-4,"y":-1,"t":3.4},{"m":800,"x":-3,"y":-1,"t":3},{"m":800,"x":-2,"y":-1,"t":2.4},{"m":800,"x":-1,"y":-1,"t":2.2},{"m":800,"x":0,"y":-1,"t":2.1},{"m":800,"x":1,"y":-1,"t":2.2},{"m":800,"x":2,"y":-1,"t":2.2},{"m":800,"x":3,"y":-1,"t":2.1},{"m":800,"x":4,"y":-1,"t":1.6},{"m":800,"x":-4,"y":0,"t":4.1},{"m":800,"x":-3,"y":0,"t":3.5},{"m":800,"x":-2,"y":0,"t":2.6},{"m":800,"x":-1,"y":0,"t":2.1},{"m":800,"x":0,"y":0,"t":2},{"m":800,"x":1,"y":0,"t":2.3},{"m":800,"x":2,"y":0,"t":2.5},{"m":800,"x":3,"y":0,"t":2.6},{"m":800,"x":4,"y":0,"t":2},{"m":800,"x":-4,"y":1,"t":4.6},{"m":800,"x":-3,"y":1,"t":3.8},{"m":800,"x":-2,"y":1,"t":2.8},{"m":800,"x":-1,"y":1,"t":2.3},{"m":800,"x":0,"y":1,"t":2.3},{"m":800,"x":1,"y":1,"t":2.5},{"m":800,"x":2,"y":1,"t":2.8},{"m":800,"x":3,"y":1,"t":2.9},{"m":800,"x":4,"y":1,"t":1.9},{"m":800,"x":-4,"y":2,"t":3.8},{"m":800,"x":-3,"y":2,"t":3.1},{"m":800,"x":-2,"y":2,"t":2.5},{"m":800,"x":-1,"y":2,"t":2.4},{"m":800,"x":0,"y":2,"t":2.4},{"m":800,"x":1,"y":2,"t":2.4},{"m":800,"x":2,"y":2,"t":2.2},{"m":800,"x":3,"y":2,"t":1.9},{"m":800,"x":4,"y":2,"t":1.2},{"m":800,"x":-3,"y":3,"t":2.4},{"m":800,"x":-2,"y":3,"t":2.2},{"m":800,"x":-1,"y":3,"t":2},{"m":800,"x":0,"y":3,"t":1.8},{"m":800,"x":1,"y":3,"t":1.4},{"m":800,"x":2,"y":3,"t":1},{"m":800,"x":3,"y":3,"t":0.5},{"m":800,"x":-2,"y":4,"t":1.3},{"m":800,"x":-1,"y":4,"t":1.2},{"m":800,"x":0,"y":4,"t":1.1},{"m":800,"x":1,"y":4,"t":0.4},{"m":800,"x":2,"y":4,"t":-0.1},
{"m":900,"x":-2,"y":-4,"t":0.9},{"m":900,"x":-1,"y":-4,"t":1},{"m":900,"x":0,"y":-4,"t":1.1},{"m":900,"x":1,"y":-4,"t":1},{"m":900,"x":2,"y":-4,"t":0.6},{"m":900,"x":-3,"y":-3,"t":1.2},{"m":900,"x":-2,"y":-3,"t":1.2},{"m":900,"x":-1,"y":-3,"t":1.2},{"m":900,"x":0,"y":-3,"t":1.2},{"m":900,"x":1,"y":-3,"t":1},{"m":900,"x":2,"y":-3,"t":0.8},{"m":900,"x":3,"y":-3,"t":0.6},{"m":900,"x":-4,"y":-2,"t":1.6},{"m":900,"x":-3,"y":-2,"t":1.3},{"m":900,"x":-2,"y":-2,"t":1.2},{"m":900,"x":-1,"y":-2,"t":1.1},{"m":900,"x":0,"y":-2,"t":1.1},{"m":900,"x":1,"y":-2,"t":1},{"m":900,"x":2,"y":-2,"t":0.9},{"m":900,"x":3,"y":-2,"t":0.8},{"m":900,"x":4,"y":-2,"t":0.7},{"m":900,"x":-4,"y":-1,"t":2.1},{"m":900,"x":-3,"y":-1,"t":1.9},{"m":900,"x":-2,"y":-1,"t":1.4},{"m":900,"x":-1,"y":-1,"t":1.2},{"m":900,"x":0,"y":-1,"t":1.1},{"m":900,"x":1,"y":-1,"t":1.1},{"m":900,"x":2,"y":-1,"t":1.1},{"m":900,"x":3,"y":-1,"t":1.1},{"m":900,"x":4,"y":-1,"t":1.1},{"m":900,"x":-4,"y":0,"t":3.3},{"m":900,"x":-3,"y":0,"t":2.8},{"m":900,"x":-2,"y":0,"t":2},{"m":900,"x":-1,"y":0,"t":1.7},{"m":900,"x":0,"y":0,"t":1.7},{"m":900,"x":1,"y":0,"t":1.8},{"m":900,"x":2,"y":0,"t":2},{"m":900,"x":3,"y":0,"t":2.3},{"m":900,"x":4,"y":0,"t":2.2},{"m":900,"x":-4,"y":1,"t":4.6},{"m":900,"x":-3,"y":1,"t":4},{"m":900,"x":-2,"y":1,"t":2.8},{"m":900,"x":-1,"y":1,"t":2.2},{"m":900,"x":0,"y":1,"t":2.2},{"m":900,"x":1,"y":1,"t":2.7},{"m":900,"x":2,"y":1,"t":3.5},{"m":900,"x":3,"y":1,"t":3.9},{"m":900,"x":4,"y":1,"t":3},{"m":900,"x":-4,"y":2,"t":4.4},{"m":900,"x":-3,"y":2,"t":4},{"m":900,"x":-2,"y":2,"t":3},{"m":900,"x":-1,"y":2,"t":2.6},{"m":900,"x":0,"y":2,"t":2.6},{"m":900,"x":1,"y":2,"t":3},{"m":900,"x":2,"y":2,"t":3.8},{"m":900,"x":3,"y":2,"t":3.7},{"m":900,"x":4,"y":2,"t":2.4},{"m":900,"x":-3,"y":3,"t":3},{"m":900,"x":-2,"y":3,"t":2.8},{"m":900,"x":-1,"y":3,"t":2.6},{"m":900,"x":0,"y":3,"t":2.7},{"m":900,"x":1,"y":3,"t":2.8},{"m":900,"x":2,"y":3,"t":2.9},{"m":900,"x":3,"y":3,"t":2.2},{"m":900,"x":-2,"y":4,"t":2},{"m":900,"x":-1,"y":4,"t":2.3},{"m":900,"x":0,"y":4,"t":2.4},{"m":900,"x":1,"y":4,"t":2.2},{"m":900,"x":2,"y":4,"t":1.8},
{"m":1000,"x":-2,"y":-4,"t":0.2},{"m":1000,"x":-1,"y":-4,"t":0.1},{"m":1000,"x":0,"y":-4,"t":0},{"m":1000,"x":1,"y":-4,"t":-0.1},{"m":1000,"x":2,"y":-4,"t":-0.4},{"m":1000,"x":-3,"y":-3,"t":0.5},{"m":1000,"x":-2,"y":-3,"t":0.3},{"m":1000,"x":-1,"y":-3,"t":-0.2},{"m":1000,"x":0,"y":-3,"t":-0.4},{"m":1000,"x":1,"y":-3,"t":-0.6},{"m":1000,"x":2,"y":-3,"t":-0.6},{"m":1000,"x":3,"y":-3,"t":-0.8},{"m":1000,"x":-4,"y":-2,"t":0.7},{"m":1000,"x":-3,"y":-2,"t":0.5},{"m":1000,"x":-2,"y":-2,"t":0},{"m":1000,"x":-1,"y":-2,"t":-0.6},{"m":1000,"x":0,"y":-2,"t":-0.9},{"m":1000,"x":1,"y":-2,"t":-0.9},{"m":1000,"x":2,"y":-2,"t":-0.9},{"m":1000,"x":3,"y":-2,"t":-0.9},{"m":1000,"x":4,"y":-2,"t":-0.8},{"m":1000,"x":-4,"y":-1,"t":1},{"m":1000,"x":-3,"y":-1,"t":0.7},{"m":1000,"x":-2,"y":-1,"t":0.2},{"m":1000,"x":-1,"y":-1,"t":-0.4},{"m":1000,"x":0,"y":-1,"t":-0.7},{"m":1000,"x":1,"y":-1,"t":-0.6},{"m":1000,"x":2,"y":-1,"t":-0.4},{"m":1000,"x":3,"y":-1,"t":-0.5},{"m":1000,"x":4,"y":-1,"t":-0.3},{"m":1000,"x":-4,"y":0,"t":1.8},{"m":1000,"x":-3,"y":0,"t":1.5},{"m":1000,"x":-2,"y":0,"t":0.9},{"m":1000,"x":-1,"y":0,"t":0.4},{"m":1000,"x":0,"y":0,"t":0.2},{"m":1000,"x":1,"y":0,"t":0.2},{"m":1000,"x":2,"y":0,"t":0.5},{"m":1000,"x":3,"y":0,"t":0.7},{"m":1000,"x":4,"y":0,"t":0.7},{"m":1000,"x":-4,"y":1,"t":3.4},{"m":1000,"x":-3,"y":1,"t":2.6},{"m":1000,"x":-2,"y":1,"t":1.5},{"m":1000,"x":-1,"y":1,"t":0.9},{"m":1000,"x":0,"y":1,"t":0.6},{"m":1000,"x":1,"y":1,"t":0.9},{"m":1000,"x":2,"y":1,"t":1.7},{"m":1000,"x":3,"y":1,"t":1.9},{"m":1000,"x":4,"y":1,"t":1.4},{"m":1000,"x":-4,"y":2,"t":4.6},{"m":1000,"x":-3,"y":2,"t":3.6},{"m":1000,"x":-2,"y":2,"t":2.1},{"m":1000,"x":-1,"y":2,"t":1.4},{"m":1000,"x":0,"y":2,"t":1.2},{"m":1000,"x":1,"y":2,"t":1.5},{"m":1000,"x":2,"y":2,"t":2.2},{"m":1000,"x":3,"y":2,"t":2.6},{"m":1000,"x":4,"y":2,"t":1.6},{"m":1000,"x":-3,"y":3,"t":3.2},{"m":1000,"x":-2,"y":3,"t":2.6},{"m":1000,"x":-1,"y":3,"t":1.9},{"m":1000,"x":0,"y":3,"t":1.6},{"m":1000,"x":1,"y":3,"t":1.6},{"m":1000,"x":2,"y":3,"t":1.9},{"m":1000,"x":3,"y":3,"t":1.5},{"m":1000,"x":-2,"y":4,"t":2.3},{"m":1000,"x":-1,"y":4,"t":2},{"m":1000,"x":0,"y":4,"t":1.8},{"m":1000,"x":1,"y":4,"t":1.5},{"m":1000,"x":2,"y":4,"t":1.3},
{"m":1100,"x":-2,"y":-4,"t":-0.1},{"m":1100,"x":-1,"y":-4,"t":-0.4},{"m":1100,"x":0,"y":-4,"t":-0.6},{"m":1100,"x":1,"y":-4,"t":-0.5},{"m":1100,"x":2,"y":-4,"t":-0.6},{"m":1100,"x":-3,"y":-3,"t":0.1},{"m":1100,"x":-2,"y":-3,"t":-0.5},{"m":1100,"x":-1,"y":-3,"t":-0.9},{"m":1100,"x":0,"y":-3,"t":-1},{"m":1100,"x":1,"y":-3,"t":-0.9},{"m":1100,"x":2,"y":-3,"t":-0.8},{"m":1100,"x":3,"y":-3,"t":-0.7},{"m":1100,"x":-4,"y":-2,"t":0.1},{"m":1100,"x":-3,"y":-2,"t":-0.2},{"m":1100,"x":-2,"y":-2,"t":-0.9},{"m":1100,"x":-1,"y":-2,"t":-1.3},{"m":1100,"x":0,"y":-2,"t":-1.5},{"m":1100,"x":1,"y":-2,"t":-1.3},{"m":1100,"x":2,"y":-2,"t":-1},{"m":1100,"x":3,"y":-2,"t":-0.7},{"m":1100,"x":4,"y":-2,"t":-0.5},{"m":1100,"x":-4,"y":-1,"t":0.3},{"m":1100,"x":-3,"y":-1,"t":-0.1},{"m":1100,"x":-2,"y":-1,"t":-0.9},{"m":1100,"x":-1,"y":-1,"t":-1.5},{"m":1100,"x":0,"y":-1,"t":-1.6},{"m":1100,"x":1,"y":-1,"t":-1.4},{"m":1100,"x":2,"y":-1,"t":-0.9},{"m":1100,"x":3,"y":-1,"t":-0.6},{"m":1100,"x":4,"y":-1,"t":-0.2},{"m":1100,"x":-4,"y":0,"t":0.7},{"m":1100,"x":-3,"y":0,"t":0.2},{"m":1100,"x":-2,"y":0,"t":-0.4},{"m":1100,"x":-1,"y":0,"t":-1},{"m":1100,"x":0,"y":0,"t":-1.1},{"m":1100,"x":1,"y":0,"t":-0.8},{"m":1100,"x":2,"y":0,"t":-0.4},{"m":1100,"x":3,"y":0,"t":0.2},{"m":1100,"x":4,"y":0,"t":0.6},{"m":1100,"x":-4,"y":1,"t":2},{"m":1100,"x":-3,"y":1,"t":1.4},{"m":1100,"x":-2,"y":1,"t":0.6},{"m":1100,"x":-1,"y":1,"t":-0.1},{"m":1100,"x":0,"y":1,"t":-0.3},{"m":1100,"x":1,"y":1,"t":0.1},{"m":1100,"x":2,"y":1,"t":0.9},{"m":1100,"x":3,"y":1,"t":1.6},{"m":1100,"x":4,"y":1,"t":1.4},{"m":1100,"x":-4,"y":2,"t":3.6},{"m":1100,"x":-3,"y":2,"t":2.6},{"m":1100,"x":-2,"y":2,"t":1.5},{"m":1100,"x":-1,"y":2,"t":0.7},{"m":1100,"x":0,"y":2,"t":0.5},{"m":1100,"x":1,"y":2,"t":1},{"m":1100,"x":2,"y":2,"t":1.7},{"m":1100,"x":3,"y":2,"t":2.5},{"m":1100,"x":4,"y":2,"t":1.6},{"m":1100,"x":-3,"y":3,"t":3.2},{"m":1100,"x":-2,"y":3,"t":2.4},{"m":1100,"x":-1,"y":3,"t":1.8},{"m":1100,"x":0,"y":3,"t":1.4},{"m":1100,"x":1,"y":3,"t":1.4},{"m":1100,"x":2,"y":3,"t":1.7},{"m":1100,"x":3,"y":3,"t":1.4},{"m":1100,"x":-2,"y":4,"t":2.3},{"m":1100,"x":-1,"y":4,"t":2},{"m":1100,"x":0,"y":4,"t":1.8},{"m":1100,"x":1,"y":4,"t":1.5},{"m":1100,"x":2,"y":4,"t":1.1}]
},
"layer":[
{"layer":[
{"data":{"name":"frame"},"mark":{"type":"rect","fill":"white","stroke":"#111","strokeWidth":2.5},"encoding":{"x":{"field":"a","type":"quantitative","axis":null,"scale":{"domain":[28,1262],"range":[85,2551]}},"x2":{"field":"b"},"y":{"field":"r0","type":"quantitative","axis":null,"scale":{"domain":[-0.93,6.28],"range":[9,622]}},"y2":{"field":"r1"}}},
{"data":{"name":"head"},"mark":{"type":"rect","fill":"white","stroke":"#111","strokeWidth":2.5},"encoding":{"x":{"field":"a","type":"quantitative","axis":null,"scale":{"domain":[28,1262],"range":[85,2551]}},"x2":{"field":"b"},"y":{"datum":-0.93,"type":"quantitative","axis":null,"scale":{"domain":[-0.93,6.28],"range":[9,622]}},"y2":{"datum":0}}},
{"data":{"name":"cells"},"mark":{"type":"rect","stroke":"#111","strokeWidth":2.5},"encoding":{"x":{"field":"a","type":"quantitative","axis":null,"scale":{"domain":[28,1262],"range":[85,2551]}},"x2":{"field":"b"},"y":{"field":"r0","type":"quantitative","axis":null,"scale":{"domain":[-0.93,6.28],"range":[9,622]}},"y2":{"field":"r1"},"fill":{"field":"sig","type":"nominal","scale":{"domain":[0,1],"range":["#ffffff","#c3f1d5"]},"legend":null}}},
{"data":{"name":"cells"},"mark":{"type":"text","fontSize":23.5,"dy":38,"color":"#111","baseline":"middle"},"encoding":{"x":{"field":"c","type":"quantitative","axis":null,"scale":{"domain":[28,1262],"range":[85,2551]}},"y":{"field":"r0","type":"quantitative","axis":null,"scale":{"domain":[-0.93,6.28],"range":[9,622]}},"text":{"field":"t"}}},
{"data":{"name":"cells"},"mark":{"type":"text","fontSize":23.5,"dy":70,"color":"#111","baseline":"middle"},"encoding":{"x":{"field":"c","type":"quantitative","axis":null,"scale":{"domain":[28,1262],"range":[85,2551]}},"y":{"field":"r0","type":"quantitative","axis":null,"scale":{"domain":[-0.93,6.28],"range":[9,622]}},"text":{"field":"ci"}}},
{"data":{"name":"head"},"mark":{"type":"text","fontSize":29.5,"fontWeight":"bold","color":"#111","baseline":"middle"},"encoding":{"x":{"field":"c","type":"quantitative","axis":null,"scale":{"domain":[28,1262],"range":[85,2551]}},"y":{"datum":-0.25,"type":"quantitative","axis":null,"scale":{"domain":[-0.93,6.28],"range":[9,622]}},"text":{"field":"w"}}},
{"data":{"name":"rowlabels"},"mark":{"type":"text","fontSize":41,"fontWeight":"bold","color":"#111","baseline":"middle","align":"left"},"encoding":{"x":{"field":"a","type":"quantitative","axis":null,"scale":{"domain":[28,1262],"range":[85,2551]}},"y":{"field":"r","type":"quantitative","axis":null,"scale":{"domain":[-0.93,6.28],"range":[9,622]}},"text":{"field":"w"}}},
{"data":{"values":[{"a":35.5,"r":4.88,"w":"T value"},{"a":35.5,"r":5.42,"w":"maps"}]},"mark":{"type":"text","fontSize":35,"fontWeight":"bold","color":"#111","baseline":"middle","align":"left"},"encoding":{"x":{"field":"a","type":"quantitative","axis":null,"scale":{"domain":[28,1262],"range":[85,2551]}},"y":{"field":"r","type":"quantitative","axis":null,"scale":{"domain":[-0.93,6.28],"range":[9,622]}},"text":{"field":"w"}}},
{"data":{"values":[{"a":1208,"r":-0.32,"w":"t scale"}]},"mark":{"type":"text","fontSize":31,"fontWeight":"bold","color":"#111","baseline":"middle","align":"left"},"encoding":{"x":{"field":"a","type":"quantitative","axis":null,"scale":{"domain":[28,1262],"range":[85,2551]}},"y":{"field":"r","type":"quantitative","axis":null,"scale":{"domain":[-0.93,6.28],"range":[9,622]}},"text":{"field":"w"}}},
{"data":{"values":[{"a":-11,"r":-0.66,"w":"A."},{"a":-10,"r":7.19,"w":"B."}]},"mark":{"type":"text","fontSize":60,"fontWeight":"bold","color":"#111","baseline":"middle","align":"left"},"encoding":{"x":{"field":"a","type":"quantitative","axis":null,"scale":{"domain":[28,1262],"range":[85,2551]}},"y":{"field":"r","type":"quantitative","axis":null,"scale":{"domain":[-0.93,6.28],"range":[9,622]}},"text":{"field":"w"}}}
]},
{"encoding":{"x":{"field":"x","type":"quantitative","axis":null,"scale":{"domain":[-5,5],"range":[228,428]}},"y":{"field":"y","type":"quantitative","axis":null,"scale":{"domain":[-5,5],"range":[427,627]}}},"layer":[{"data":{"name":"maps"},"transform":[{"filter":"datum.m==100"}],"mark":{"type":"square","size":441,"opacity":1},"encoding":{"color":{"field":"t","type":"quantitative","scale":{"domain":[-6,-4.4,-1.5,0,1.4,4.5,6],"range":["#00007f","#0000ff","#00ffff","#50e890","#ffff00","#ff0000","#7f0000"]},"legend":{"title":null,"orient":"none","legendX":2453,"legendY":117,"gradientLength":474,"gradientThickness":43,"values":[-6,6],"labelExpr":"datum.value>0?'6':'-6'","labelFontSize":38,"labelFontWeight":"bold","labelColor":"#111","labelOffset":14,"labelOverlap":false,"gradientStrokeColor":"#555","gradientStrokeWidth":1,"tickCount":2}}}},{"data":{"name":"origin"},"mark":{"type":"point","shape":"M-0.92 -0.92L0.92 -0.92L0.92 0.92L-0.92 0.92ZM0.85 0A0.85 0.85 0 1 0 -0.85 0A0.85 0.85 0 1 0 0.85 0Z","size":40000,"filled":true,"color":"white","opacity":1}},{"data":{"name":"origin"},"mark":{"type":"point","shape":"M0.8 0A0.8 0.8 0 1 0 -0.8 0A0.8 0.8 0 1 0 0.8 0ZM-0.13 -0.79L-0.03 -0.91L0.03 -0.91L0.13 -0.79M-0.8 -0.18L-0.85 -0.18L-0.87 -0.14L-0.87 0.14L-0.84 0.22L-0.79 0.2M0.8 -0.18L0.85 -0.18L0.87 -0.14L0.87 0.14L0.84 0.22L0.79 0.2","size":40000,"filled":false,"color":"#111","strokeWidth":1.8,"opacity":1}},{"data":{"name":"electrodes"},"mark":{"type":"circle","size":8,"color":"#111","opacity":1}}]},
{"encoding":{"x":{"field":"x","type":"quantitative","axis":null,"scale":{"domain":[-5,5],"range":[427,627]}},"y":{"field":"y","type":"quantitative","axis":null,"scale":{"domain":[-5,5],"range":[427,627]}}},"layer":[{"data":{"name":"maps"},"transform":[{"filter":"datum.m==200"}],"mark":{"type":"square","size":441,"opacity":1},"encoding":{"color":{"field":"t","type":"quantitative","scale":{"domain":[-6,-4.4,-1.5,0,1.4,4.5,6],"range":["#00007f","#0000ff","#00ffff","#50e890","#ffff00","#ff0000","#7f0000"]}}}},{"data":{"name":"origin"},"mark":{"type":"point","shape":"M-0.92 -0.92L0.92 -0.92L0.92 0.92L-0.92 0.92ZM0.85 0A0.85 0.85 0 1 0 -0.85 0A0.85 0.85 0 1 0 0.85 0Z","size":40000,"filled":true,"color":"white","opacity":1}},{"data":{"name":"origin"},"mark":{"type":"point","shape":"M0.8 0A0.8 0.8 0 1 0 -0.8 0A0.8 0.8 0 1 0 0.8 0ZM-0.13 -0.79L-0.03 -0.91L0.03 -0.91L0.13 -0.79M-0.8 -0.18L-0.85 -0.18L-0.87 -0.14L-0.87 0.14L-0.84 0.22L-0.79 0.2M0.8 -0.18L0.85 -0.18L0.87 -0.14L0.87 0.14L0.84 0.22L0.79 0.2","size":40000,"filled":false,"color":"#111","strokeWidth":1.8,"opacity":1}},{"data":{"name":"electrodes"},"mark":{"type":"circle","size":8,"color":"#111","opacity":1}}]},
{"encoding":{"x":{"field":"x","type":"quantitative","axis":null,"scale":{"domain":[-5,5],"range":[628,828]}},"y":{"field":"y","type":"quantitative","axis":null,"scale":{"domain":[-5,5],"range":[427,627]}}},"layer":[{"data":{"name":"maps"},"transform":[{"filter":"datum.m==300"}],"mark":{"type":"square","size":441,"opacity":1},"encoding":{"color":{"field":"t","type":"quantitative","scale":{"domain":[-6,-4.4,-1.5,0,1.4,4.5,6],"range":["#00007f","#0000ff","#00ffff","#50e890","#ffff00","#ff0000","#7f0000"]}}}},{"data":{"name":"origin"},"mark":{"type":"point","shape":"M-0.92 -0.92L0.92 -0.92L0.92 0.92L-0.92 0.92ZM0.85 0A0.85 0.85 0 1 0 -0.85 0A0.85 0.85 0 1 0 0.85 0Z","size":40000,"filled":true,"color":"white","opacity":1}},{"data":{"name":"origin"},"mark":{"type":"point","shape":"M0.8 0A0.8 0.8 0 1 0 -0.8 0A0.8 0.8 0 1 0 0.8 0ZM-0.13 -0.79L-0.03 -0.91L0.03 -0.91L0.13 -0.79M-0.8 -0.18L-0.85 -0.18L-0.87 -0.14L-0.87 0.14L-0.84 0.22L-0.79 0.2M0.8 -0.18L0.85 -0.18L0.87 -0.14L0.87 0.14L0.84 0.22L0.79 0.2","size":40000,"filled":false,"color":"#111","strokeWidth":1.8,"opacity":1}},{"data":{"name":"electrodes"},"mark":{"type":"circle","size":8,"color":"#111","opacity":1}}]},
{"encoding":{"x":{"field":"x","type":"quantitative","axis":null,"scale":{"domain":[-5,5],"range":[827,1027]}},"y":{"field":"y","type":"quantitative","axis":null,"scale":{"domain":[-5,5],"range":[427,627]}}},"layer":[{"data":{"name":"maps"},"transform":[{"filter":"datum.m==400"}],"mark":{"type":"square","size":441,"opacity":1},"encoding":{"color":{"field":"t","type":"quantitative","scale":{"domain":[-6,-4.4,-1.5,0,1.4,4.5,6],"range":["#00007f","#0000ff","#00ffff","#50e890","#ffff00","#ff0000","#7f0000"]}}}},{"data":{"name":"origin"},"mark":{"type":"point","shape":"M-0.92 -0.92L0.92 -0.92L0.92 0.92L-0.92 0.92ZM0.85 0A0.85 0.85 0 1 0 -0.85 0A0.85 0.85 0 1 0 0.85 0Z","size":40000,"filled":true,"color":"white","opacity":1}},{"data":{"name":"origin"},"mark":{"type":"point","shape":"M0.8 0A0.8 0.8 0 1 0 -0.8 0A0.8 0.8 0 1 0 0.8 0ZM-0.13 -0.79L-0.03 -0.91L0.03 -0.91L0.13 -0.79M-0.8 -0.18L-0.85 -0.18L-0.87 -0.14L-0.87 0.14L-0.84 0.22L-0.79 0.2M0.8 -0.18L0.85 -0.18L0.87 -0.14L0.87 0.14L0.84 0.22L0.79 0.2","size":40000,"filled":false,"color":"#111","strokeWidth":1.8,"opacity":1}},{"data":{"name":"electrodes"},"mark":{"type":"circle","size":8,"color":"#111","opacity":1}}]},
{"encoding":{"x":{"field":"x","type":"quantitative","axis":null,"scale":{"domain":[-5,5],"range":[1028,1228]}},"y":{"field":"y","type":"quantitative","axis":null,"scale":{"domain":[-5,5],"range":[427,627]}}},"layer":[{"data":{"name":"maps"},"transform":[{"filter":"datum.m==500"}],"mark":{"type":"square","size":441,"opacity":1},"encoding":{"color":{"field":"t","type":"quantitative","scale":{"domain":[-6,-4.4,-1.5,0,1.4,4.5,6],"range":["#00007f","#0000ff","#00ffff","#50e890","#ffff00","#ff0000","#7f0000"]}}}},{"data":{"name":"origin"},"mark":{"type":"point","shape":"M-0.92 -0.92L0.92 -0.92L0.92 0.92L-0.92 0.92ZM0.85 0A0.85 0.85 0 1 0 -0.85 0A0.85 0.85 0 1 0 0.85 0Z","size":40000,"filled":true,"color":"white","opacity":1}},{"data":{"name":"origin"},"mark":{"type":"point","shape":"M0.8 0A0.8 0.8 0 1 0 -0.8 0A0.8 0.8 0 1 0 0.8 0ZM-0.13 -0.79L-0.03 -0.91L0.03 -0.91L0.13 -0.79M-0.8 -0.18L-0.85 -0.18L-0.87 -0.14L-0.87 0.14L-0.84 0.22L-0.79 0.2M0.8 -0.18L0.85 -0.18L0.87 -0.14L0.87 0.14L0.84 0.22L0.79 0.2","size":40000,"filled":false,"color":"#111","strokeWidth":1.8,"opacity":1}},{"data":{"name":"electrodes"},"mark":{"type":"circle","size":8,"color":"#111","opacity":1}}]},
{"encoding":{"x":{"field":"x","type":"quantitative","axis":null,"scale":{"domain":[-5,5],"range":[1229,1429]}},"y":{"field":"y","type":"quantitative","axis":null,"scale":{"domain":[-5,5],"range":[427,627]}}},"layer":[{"data":{"name":"maps"},"transform":[{"filter":"datum.m==600"}],"mark":{"type":"square","size":441,"opacity":1},"encoding":{"color":{"field":"t","type":"quantitative","scale":{"domain":[-6,-4.4,-1.5,0,1.4,4.5,6],"range":["#00007f","#0000ff","#00ffff","#50e890","#ffff00","#ff0000","#7f0000"]}}}},{"data":{"name":"origin"},"mark":{"type":"point","shape":"M-0.92 -0.92L0.92 -0.92L0.92 0.92L-0.92 0.92ZM0.85 0A0.85 0.85 0 1 0 -0.85 0A0.85 0.85 0 1 0 0.85 0Z","size":40000,"filled":true,"color":"white","opacity":1}},{"data":{"name":"origin"},"mark":{"type":"point","shape":"M0.8 0A0.8 0.8 0 1 0 -0.8 0A0.8 0.8 0 1 0 0.8 0ZM-0.13 -0.79L-0.03 -0.91L0.03 -0.91L0.13 -0.79M-0.8 -0.18L-0.85 -0.18L-0.87 -0.14L-0.87 0.14L-0.84 0.22L-0.79 0.2M0.8 -0.18L0.85 -0.18L0.87 -0.14L0.87 0.14L0.84 0.22L0.79 0.2","size":40000,"filled":false,"color":"#111","strokeWidth":1.8,"opacity":1}},{"data":{"name":"electrodes"},"mark":{"type":"circle","size":8,"color":"#111","opacity":1}}]},
{"encoding":{"x":{"field":"x","type":"quantitative","axis":null,"scale":{"domain":[-5,5],"range":[1428,1628]}},"y":{"field":"y","type":"quantitative","axis":null,"scale":{"domain":[-5,5],"range":[427,627]}}},"layer":[{"data":{"name":"maps"},"transform":[{"filter":"datum.m==700"}],"mark":{"type":"square","size":441,"opacity":1},"encoding":{"color":{"field":"t","type":"quantitative","scale":{"domain":[-6,-4.4,-1.5,0,1.4,4.5,6],"range":["#00007f","#0000ff","#00ffff","#50e890","#ffff00","#ff0000","#7f0000"]}}}},{"data":{"name":"origin"},"mark":{"type":"point","shape":"M-0.92 -0.92L0.92 -0.92L0.92 0.92L-0.92 0.92ZM0.85 0A0.85 0.85 0 1 0 -0.85 0A0.85 0.85 0 1 0 0.85 0Z","size":40000,"filled":true,"color":"white","opacity":1}},{"data":{"name":"origin"},"mark":{"type":"point","shape":"M0.8 0A0.8 0.8 0 1 0 -0.8 0A0.8 0.8 0 1 0 0.8 0ZM-0.13 -0.79L-0.03 -0.91L0.03 -0.91L0.13 -0.79M-0.8 -0.18L-0.85 -0.18L-0.87 -0.14L-0.87 0.14L-0.84 0.22L-0.79 0.2M0.8 -0.18L0.85 -0.18L0.87 -0.14L0.87 0.14L0.84 0.22L0.79 0.2","size":40000,"filled":false,"color":"#111","strokeWidth":1.8,"opacity":1}},{"data":{"name":"electrodes"},"mark":{"type":"circle","size":8,"color":"#111","opacity":1}}]},
{"encoding":{"x":{"field":"x","type":"quantitative","axis":null,"scale":{"domain":[-5,5],"range":[1629,1829]}},"y":{"field":"y","type":"quantitative","axis":null,"scale":{"domain":[-5,5],"range":[427,627]}}},"layer":[{"data":{"name":"maps"},"transform":[{"filter":"datum.m==800"}],"mark":{"type":"square","size":441,"opacity":1},"encoding":{"color":{"field":"t","type":"quantitative","scale":{"domain":[-6,-4.4,-1.5,0,1.4,4.5,6],"range":["#00007f","#0000ff","#00ffff","#50e890","#ffff00","#ff0000","#7f0000"]}}}},{"data":{"name":"origin"},"mark":{"type":"point","shape":"M-0.92 -0.92L0.92 -0.92L0.92 0.92L-0.92 0.92ZM0.85 0A0.85 0.85 0 1 0 -0.85 0A0.85 0.85 0 1 0 0.85 0Z","size":40000,"filled":true,"color":"white","opacity":1}},{"data":{"name":"origin"},"mark":{"type":"point","shape":"M0.8 0A0.8 0.8 0 1 0 -0.8 0A0.8 0.8 0 1 0 0.8 0ZM-0.13 -0.79L-0.03 -0.91L0.03 -0.91L0.13 -0.79M-0.8 -0.18L-0.85 -0.18L-0.87 -0.14L-0.87 0.14L-0.84 0.22L-0.79 0.2M0.8 -0.18L0.85 -0.18L0.87 -0.14L0.87 0.14L0.84 0.22L0.79 0.2","size":40000,"filled":false,"color":"#111","strokeWidth":1.8,"opacity":1}},{"data":{"name":"electrodes"},"mark":{"type":"circle","size":8,"color":"#111","opacity":1}}]},
{"encoding":{"x":{"field":"x","type":"quantitative","axis":null,"scale":{"domain":[-5,5],"range":[1828,2028]}},"y":{"field":"y","type":"quantitative","axis":null,"scale":{"domain":[-5,5],"range":[427,627]}}},"layer":[{"data":{"name":"maps"},"transform":[{"filter":"datum.m==900"}],"mark":{"type":"square","size":441,"opacity":1},"encoding":{"color":{"field":"t","type":"quantitative","scale":{"domain":[-6,-4.4,-1.5,0,1.4,4.5,6],"range":["#00007f","#0000ff","#00ffff","#50e890","#ffff00","#ff0000","#7f0000"]}}}},{"data":{"name":"origin"},"mark":{"type":"point","shape":"M-0.92 -0.92L0.92 -0.92L0.92 0.92L-0.92 0.92ZM0.85 0A0.85 0.85 0 1 0 -0.85 0A0.85 0.85 0 1 0 0.85 0Z","size":40000,"filled":true,"color":"white","opacity":1}},{"data":{"name":"origin"},"mark":{"type":"point","shape":"M0.8 0A0.8 0.8 0 1 0 -0.8 0A0.8 0.8 0 1 0 0.8 0ZM-0.13 -0.79L-0.03 -0.91L0.03 -0.91L0.13 -0.79M-0.8 -0.18L-0.85 -0.18L-0.87 -0.14L-0.87 0.14L-0.84 0.22L-0.79 0.2M0.8 -0.18L0.85 -0.18L0.87 -0.14L0.87 0.14L0.84 0.22L0.79 0.2","size":40000,"filled":false,"color":"#111","strokeWidth":1.8,"opacity":1}},{"data":{"name":"electrodes"},"mark":{"type":"circle","size":8,"color":"#111","opacity":1}}]},
{"encoding":{"x":{"field":"x","type":"quantitative","axis":null,"scale":{"domain":[-5,5],"range":[2029,2229]}},"y":{"field":"y","type":"quantitative","axis":null,"scale":{"domain":[-5,5],"range":[427,627]}}},"layer":[{"data":{"name":"maps"},"transform":[{"filter":"datum.m==1000"}],"mark":{"type":"square","size":441,"opacity":1},"encoding":{"color":{"field":"t","type":"quantitative","scale":{"domain":[-6,-4.4,-1.5,0,1.4,4.5,6],"range":["#00007f","#0000ff","#00ffff","#50e890","#ffff00","#ff0000","#7f0000"]}}}},{"data":{"name":"origin"},"mark":{"type":"point","shape":"M-0.92 -0.92L0.92 -0.92L0.92 0.92L-0.92 0.92ZM0.85 0A0.85 0.85 0 1 0 -0.85 0A0.85 0.85 0 1 0 0.85 0Z","size":40000,"filled":true,"color":"white","opacity":1}},{"data":{"name":"origin"},"mark":{"type":"point","shape":"M0.8 0A0.8 0.8 0 1 0 -0.8 0A0.8 0.8 0 1 0 0.8 0ZM-0.13 -0.79L-0.03 -0.91L0.03 -0.91L0.13 -0.79M-0.8 -0.18L-0.85 -0.18L-0.87 -0.14L-0.87 0.14L-0.84 0.22L-0.79 0.2M0.8 -0.18L0.85 -0.18L0.87 -0.14L0.87 0.14L0.84 0.22L0.79 0.2","size":40000,"filled":false,"color":"#111","strokeWidth":1.8,"opacity":1}},{"data":{"name":"electrodes"},"mark":{"type":"circle","size":8,"color":"#111","opacity":1}}]},
{"encoding":{"x":{"field":"x","type":"quantitative","axis":null,"scale":{"domain":[-5,5],"range":[2228,2428]}},"y":{"field":"y","type":"quantitative","axis":null,"scale":{"domain":[-5,5],"range":[427,627]}}},"layer":[{"data":{"name":"maps"},"transform":[{"filter":"datum.m==1100"}],"mark":{"type":"square","size":441,"opacity":1},"encoding":{"color":{"field":"t","type":"quantitative","scale":{"domain":[-6,-4.4,-1.5,0,1.4,4.5,6],"range":["#00007f","#0000ff","#00ffff","#50e890","#ffff00","#ff0000","#7f0000"]}}}},{"data":{"name":"origin"},"mark":{"type":"point","shape":"M-0.92 -0.92L0.92 -0.92L0.92 0.92L-0.92 0.92ZM0.85 0A0.85 0.85 0 1 0 -0.85 0A0.85 0.85 0 1 0 0.85 0Z","size":40000,"filled":true,"color":"white","opacity":1}},{"data":{"name":"origin"},"mark":{"type":"point","shape":"M0.8 0A0.8 0.8 0 1 0 -0.8 0A0.8 0.8 0 1 0 0.8 0ZM-0.13 -0.79L-0.03 -0.91L0.03 -0.91L0.13 -0.79M-0.8 -0.18L-0.85 -0.18L-0.87 -0.14L-0.87 0.14L-0.84 0.22L-0.79 0.2M0.8 -0.18L0.85 -0.18L0.87 -0.14L0.87 0.14L0.84 0.22L0.79 0.2","size":40000,"filled":false,"color":"#111","strokeWidth":1.8,"opacity":1}},{"data":{"name":"electrodes"},"mark":{"type":"circle","size":8,"color":"#111","opacity":1}}]},
{"encoding":{"x":{"field":"x","type":"quantitative","scale":{"domain":[-100,1100],"range":[1188.1,1522.9]},"axis":{"orient":"bottom","offset":-1022,"domain":false,"grid":false,"labels":false,"title":null,"values":[100,200,300,400,500,600,700,800,900,1000,1100],"tickSize":12,"tickWidth":3.2,"tickColor":"#111"}},"y":{"field":"y","type":"quantitative","scale":{"domain":[-4,4],"range":[814,934]},"axis":{"orient":"left","offset":-1228,"domain":false,"grid":false,"labels":false,"title":null,"values":[-4,4],"tickSize":24,"tickWidth":3.2,"tickColor":"#111"}}},"layer":[{"data":{"name":"base"},"mark":{"type":"rule","color":"#111","strokeWidth":3.6},"encoding":{"x2":{"field":"x2"}}},{"data":{"name":"bar"},"mark":{"type":"rule","color":"#111","strokeWidth":3.6},"encoding":{"y2":{"field":"y2"}}},{"data":{"name":"erp"},"transform":[{"filter":"datum.p=='FPz'"}],"mark":{"type":"line","interpolate":"monotone","strokeWidth":3.6},"encoding":{"stroke":{"field":"s","type":"nominal","scale":{"domain":["H","L"],"range":["#111111","#ee1111"]},"legend":null},"strokeDash":{"field":"s","type":"nominal","scale":{"domain":["H","L"],"range":[[1,0],[9,5]]},"legend":null}}},{"data":{"values":[{"x":-154,"y":-0.27,"n":"FPz"}]},"mark":{"type":"text","fontSize":38,"fontWeight":"bold","align":"right","baseline":"middle","color":"#111","dy":4},"encoding":{"text":{"field":"n"}}}]},
{"encoding":{"x":{"field":"x","type":"quantitative","scale":{"domain":[-100,1100],"range":[700.1,1034.9]},"axis":{"orient":"bottom","offset":-870,"domain":false,"grid":false,"labels":false,"title":null,"values":[100,200,300,400,500,600,700,800,900,1000,1100],"tickSize":12,"tickWidth":3.2,"tickColor":"#111"}},"y":{"field":"y","type":"quantitative","scale":{"domain":[-4,4],"range":[966,1086]},"axis":{"orient":"left","offset":-740,"domain":false,"grid":false,"labels":false,"title":null,"values":[-4,4],"tickSize":24,"tickWidth":3.2,"tickColor":"#111"}}},"layer":[{"data":{"name":"base"},"mark":{"type":"rule","color":"#111","strokeWidth":3.6},"encoding":{"x2":{"field":"x2"}}},{"data":{"name":"bar"},"mark":{"type":"rule","color":"#111","strokeWidth":3.6},"encoding":{"y2":{"field":"y2"}}},{"data":{"name":"erp"},"transform":[{"filter":"datum.p=='F3'"}],"mark":{"type":"line","interpolate":"monotone","strokeWidth":3.6},"encoding":{"stroke":{"field":"s","type":"nominal","legend":null},"strokeDash":{"field":"s","type":"nominal","legend":null}}},{"data":{"values":[{"x":-186,"y":0,"n":"F3"}]},"mark":{"type":"text","fontSize":38,"fontWeight":"bold","align":"right","baseline":"middle","color":"#111","dy":4},"encoding":{"text":{"field":"n"}}}]},
{"encoding":{"x":{"field":"x","type":"quantitative","scale":{"domain":[-100,1100],"range":[1676.6,2011.4]},"axis":{"orient":"bottom","offset":-870,"domain":false,"grid":false,"labels":false,"title":null,"values":[100,200,300,400,500,600,700,800,900,1000,1100],"tickSize":12,"tickWidth":3.2,"tickColor":"#111"}},"y":{"field":"y","type":"quantitative","scale":{"domain":[-4,4],"range":[966,1086]},"axis":{"orient":"left","offset":-1716.5,"domain":false,"grid":false,"labels":false,"title":null,"values":[-4,4],"tickSize":24,"tickWidth":3.2,"tickColor":"#111"}}},"layer":[{"data":{"name":"base"},"mark":{"type":"rule","color":"#111","strokeWidth":3.6},"encoding":{"x2":{"field":"x2"}}},{"data":{"name":"bar"},"mark":{"type":"rule","color":"#111","strokeWidth":3.6},"encoding":{"y2":{"field":"y2"}}},{"data":{"name":"erp"},"transform":[{"filter":"datum.p=='F4'"}],"mark":{"type":"line","interpolate":"monotone","strokeWidth":3.6},"encoding":{"stroke":{"field":"s","type":"nominal","legend":null},"strokeDash":{"field":"s","type":"nominal","legend":null}}},{"data":{"values":[{"x":-163,"y":0,"n":"F4"}]},"mark":{"type":"text","fontSize":38,"fontWeight":"bold","align":"right","baseline":"middle","color":"#111","dy":4},"encoding":{"text":{"field":"n"}}}]},
{"encoding":{"x":{"field":"x","type":"quantitative","scale":{"domain":[-100,1100],"range":[309.1,643.9]},"axis":{"orient":"bottom","offset":-629,"domain":false,"grid":false,"labels":false,"title":null,"values":[100,200,300,400,500,600,700,800,900,1000,1100],"tickSize":12,"tickWidth":3.2,"tickColor":"#111"}},"y":{"field":"y","type":"quantitative","scale":{"domain":[-4,4],"range":[1207,1327]},"axis":{"orient":"left","offset":-349,"domain":false,"grid":false,"labels":false,"title":null,"values":[-4,4],"tickSize":24,"tickWidth":3.2,"tickColor":"#111"}}},"layer":[{"data":{"name":"base"},"mark":{"type":"rule","color":"#111","strokeWidth":3.6},"encoding":{"x2":{"field":"x2"}}},{"data":{"name":"bar"},"mark":{"type":"rule","color":"#111","strokeWidth":3.6},"encoding":{"y2":{"field":"y2"}}},{"data":{"name":"erp"},"transform":[{"filter":"datum.p=='T3'"}],"mark":{"type":"line","interpolate":"monotone","strokeWidth":3.6},"encoding":{"stroke":{"field":"s","type":"nominal","legend":null},"strokeDash":{"field":"s","type":"nominal","legend":null}}},{"data":{"values":[{"x":-154,"y":-0.1,"n":"T3"}]},"mark":{"type":"text","fontSize":38,"fontWeight":"bold","align":"right","baseline":"middle","color":"#111","dy":4},"encoding":{"text":{"field":"n"}}}]},
{"encoding":{"x":{"field":"x","type":"quantitative","scale":{"domain":[-100,1100],"range":[1189.1,1523.9]},"axis":{"orient":"bottom","offset":-566,"domain":false,"grid":false,"labels":false,"title":null,"values":[100,200,300,400,500,600,700,800,900,1000,1100],"tickSize":12,"tickWidth":3.2,"tickColor":"#111"}},"y":{"field":"y","type":"quantitative","scale":{"domain":[-4,4],"range":[1270,1390]},"axis":{"orient":"left","offset":-1229,"domain":false,"grid":false,"labels":false,"title":null,"values":[-4,4],"tickSize":24,"tickWidth":3.2,"tickColor":"#111"}}},"layer":[{"data":{"name":"base"},"mark":{"type":"rule","color":"#111","strokeWidth":3.6},"encoding":{"x2":{"field":"x2"}}},{"data":{"name":"bar"},"mark":{"type":"rule","color":"#111","strokeWidth":3.6},"encoding":{"y2":{"field":"y2"}}},{"data":{"name":"erp"},"transform":[{"filter":"datum.p=='Cz'"}],"mark":{"type":"line","interpolate":"monotone","strokeWidth":3.6},"encoding":{"stroke":{"field":"s","type":"nominal","legend":null},"strokeDash":{"field":"s","type":"nominal","legend":null}}},{"data":{"values":[{"x":-172,"y":0,"n":"Cz"}]},"mark":{"type":"text","fontSize":38,"fontWeight":"bold","align":"right","baseline":"middle","color":"#111","dy":4},"encoding":{"text":{"field":"n"}}}]},
{"encoding":{"x":{"field":"x","type":"quantitative","scale":{"domain":[-100,1100],"range":[2067.1,2401.9]},"axis":{"orient":"bottom","offset":-629,"domain":false,"grid":false,"labels":false,"title":null,"values":[100,200,300,400,500,600,700,800,900,1000,1100],"tickSize":12,"tickWidth":3.2,"tickColor":"#111"}},"y":{"field":"y","type":"quantitative","scale":{"domain":[-4,4],"range":[1207,1327]},"axis":{"orient":"left","offset":-2107,"domain":false,"grid":false,"labels":false,"title":null,"values":[-4,4],"tickSize":24,"tickWidth":3.2,"tickColor":"#111"}}},"layer":[{"data":{"name":"base"},"mark":{"type":"rule","color":"#111","strokeWidth":3.6},"encoding":{"x2":{"field":"x2"}}},{"data":{"name":"bar"},"mark":{"type":"rule","color":"#111","strokeWidth":3.6},"encoding":{"y2":{"field":"y2"}}},{"data":{"name":"erp"},"transform":[{"filter":"datum.p=='T4'"}],"mark":{"type":"line","interpolate":"monotone","strokeWidth":3.6},"encoding":{"stroke":{"field":"s","type":"nominal","legend":null},"strokeDash":{"field":"s","type":"nominal","legend":null}}},{"data":{"values":[{"x":-158,"y":-0.2,"n":"T4"}]},"mark":{"type":"text","fontSize":38,"fontWeight":"bold","align":"right","baseline":"middle","color":"#111","dy":4},"encoding":{"text":{"field":"n"}}}]},
{"encoding":{"x":{"field":"x","type":"quantitative","scale":{"domain":[-100,1100],"range":[700.1,1034.9]},"axis":{"orient":"bottom","offset":-363,"domain":false,"grid":false,"labels":false,"title":null,"values":[100,200,300,400,500,600,700,800,900,1000,1100],"tickSize":12,"tickWidth":3.2,"tickColor":"#111"}},"y":{"field":"y","type":"quantitative","scale":{"domain":[-4,4],"range":[1473,1593]},"axis":{"orient":"left","offset":-740,"domain":false,"grid":false,"labels":false,"title":null,"values":[-4,4],"tickSize":24,"tickWidth":3.2,"tickColor":"#111"}}},"layer":[{"data":{"name":"base"},"mark":{"type":"rule","color":"#111","strokeWidth":3.6},"encoding":{"x2":{"field":"x2"}}},{"data":{"name":"bar"},"mark":{"type":"rule","color":"#111","strokeWidth":3.6},"encoding":{"y2":{"field":"y2"}}},{"data":{"name":"erp"},"transform":[{"filter":"datum.p=='P3'"}],"mark":{"type":"line","interpolate":"monotone","strokeWidth":3.6},"encoding":{"stroke":{"field":"s","type":"nominal","legend":null},"strokeDash":{"field":"s","type":"nominal","legend":null}}},{"data":{"values":[{"x":-133,"y":-0.25,"n":"P3"}]},"mark":{"type":"text","fontSize":38,"fontWeight":"bold","align":"right","baseline":"middle","color":"#111","dy":4},"encoding":{"text":{"field":"n"}}}]},
{"encoding":{"x":{"field":"x","type":"quantitative","scale":{"domain":[-100,1100],"range":[1676.1,2010.9]},"axis":{"orient":"bottom","offset":-363,"domain":false,"grid":false,"labels":false,"title":null,"values":[100,200,300,400,500,600,700,800,900,1000,1100],"tickSize":12,"tickWidth":3.2,"tickColor":"#111"}},"y":{"field":"y","type":"quantitative","scale":{"domain":[-4,4],"range":[1473,1593]},"axis":{"orient":"left","offset":-1716,"domain":false,"grid":false,"labels":false,"title":null,"values":[-4,4],"tickSize":24,"tickWidth":3.2,"tickColor":"#111"}}},"layer":[{"data":{"name":"base"},"mark":{"type":"rule","color":"#111","strokeWidth":3.6},"encoding":{"x2":{"field":"x2"}}},{"data":{"name":"bar"},"mark":{"type":"rule","color":"#111","strokeWidth":3.6},"encoding":{"y2":{"field":"y2"}}},{"data":{"name":"erp"},"transform":[{"filter":"datum.p=='P4'"}],"mark":{"type":"line","interpolate":"monotone","strokeWidth":3.6},"encoding":{"stroke":{"field":"s","type":"nominal","legend":null},"strokeDash":{"field":"s","type":"nominal","legend":null}}},{"data":{"values":[{"x":-176,"y":-0.25,"n":"P4"}]},"mark":{"type":"text","fontSize":38,"fontWeight":"bold","align":"right","baseline":"middle","color":"#111","dy":4},"encoding":{"text":{"field":"n"}}}]},
{"encoding":{"x":{"field":"x","type":"quantitative","scale":{"domain":[-100,1100],"range":[1189.1,1523.9]},"axis":{"orient":"bottom","offset":-173,"domain":false,"grid":false,"labels":false,"title":null,"values":[100,200,300,400,500,600,700,800,900,1000,1100],"tickSize":12,"tickWidth":3.2,"tickColor":"#111"}},"y":{"field":"y","type":"quantitative","scale":{"domain":[-4,4],"range":[1663,1783]},"axis":{"orient":"left","offset":-1229,"domain":false,"grid":false,"labels":false,"title":null,"values":[-4,4],"tickSize":24,"tickWidth":3.2,"tickColor":"#111"}}},"layer":[{"data":{"name":"base"},"mark":{"type":"rule","color":"#111","strokeWidth":3.6},"encoding":{"x2":{"field":"x2"}}},{"data":{"name":"bar"},"mark":{"type":"rule","color":"#111","strokeWidth":3.6},"encoding":{"y2":{"field":"y2"}}},{"data":{"name":"erp"},"transform":[{"filter":"datum.p=='Oz'"}],"mark":{"type":"line","interpolate":"monotone","strokeWidth":3.6},"encoding":{"stroke":{"field":"s","type":"nominal","legend":null},"strokeDash":{"field":"s","type":"nominal","legend":null}}},{"data":{"values":[{"x":-150,"y":-0.4,"n":"Oz"}]},"mark":{"type":"text","fontSize":38,"fontWeight":"bold","align":"right","baseline":"middle","color":"#111","dy":4},"encoding":{"text":{"field":"n"}}}]},
{"encoding":{"x":{"field":"x","type":"quantitative","scale":{"domain":[-100,1100],"range":[309.1,643.9]},"axis":{"orient":"bottom","offset":-173,"domain":false,"grid":false,"labels":true,"title":null,"values":[100,200,300,400,500,600,700,800,900,1000,1100],"tickSize":12,"tickWidth":3.2,"tickColor":"#111","labelFontSize":26,"labelFontWeight":"bold","labelColor":"#111","labelPadding":23,"labelOverlap":false,"labelFlush":false,"labelExpr":"datum.value==300||datum.value==600||datum.value==900?datum.label:''"}},"y":{"field":"y","type":"quantitative","scale":{"domain":[-4,4],"range":[1663,1783]},"axis":{"orient":"left","offset":-349,"domain":false,"grid":false,"labels":false,"title":null,"values":[-4],"tickSize":24,"tickWidth":3.2,"tickColor":"#111"}}},"layer":[{"data":{"name":"base"},"mark":{"type":"rule","color":"#111","strokeWidth":3.6},"encoding":{"x2":{"field":"x2"}}},{"data":{"name":"keybar"},"mark":{"type":"rule","color":"#111","strokeWidth":3.6},"encoding":{"y2":{"field":"y2"}}},{"data":{"values":[{"x":-97,"y":-2.67,"n":"-4µv"}]},"mark":{"type":"text","fontSize":38,"fontWeight":"bold","align":"right","baseline":"middle","color":"#111","dy":3},"encoding":{"text":{"field":"n"}}}]},
{"encoding":{"x":{"field":"x","type":"quantitative","axis":null,"scale":{"domain":[0,1],"range":[1817,1905]}},"y":{"field":"y","type":"quantitative","axis":null,"scale":{"domain":[0,1],"range":[1711,1758]}}},"layer":[{"data":{"values":[{"s":"H","x":0,"x2":1,"y":0},{"s":"L","x":0,"x2":1,"y":1}]},"mark":{"type":"rule","strokeWidth":3.6},"encoding":{"x2":{"field":"x2"},"stroke":{"field":"s","type":"nominal","legend":null},"strokeDash":{"field":"s","type":"nominal","legend":null}}},{"data":{"values":[{"x":1.19,"y":0,"n":"High Frequency"}]},"mark":{"type":"text","fontSize":41.5,"fontWeight":"bold","align":"left","baseline":"middle","color":"#111","dy":-3},"encoding":{"text":{"field":"n"}}},{"data":{"values":[{"x":1.19,"y":1,"n":"Low Frequency"}]},"mark":{"type":"text","fontSize":41.5,"fontWeight":"bold","align":"left","baseline":"middle","color":"#ee1111","dy":-4},"encoding":{"text":{"field":"n"}}}]}
]}
